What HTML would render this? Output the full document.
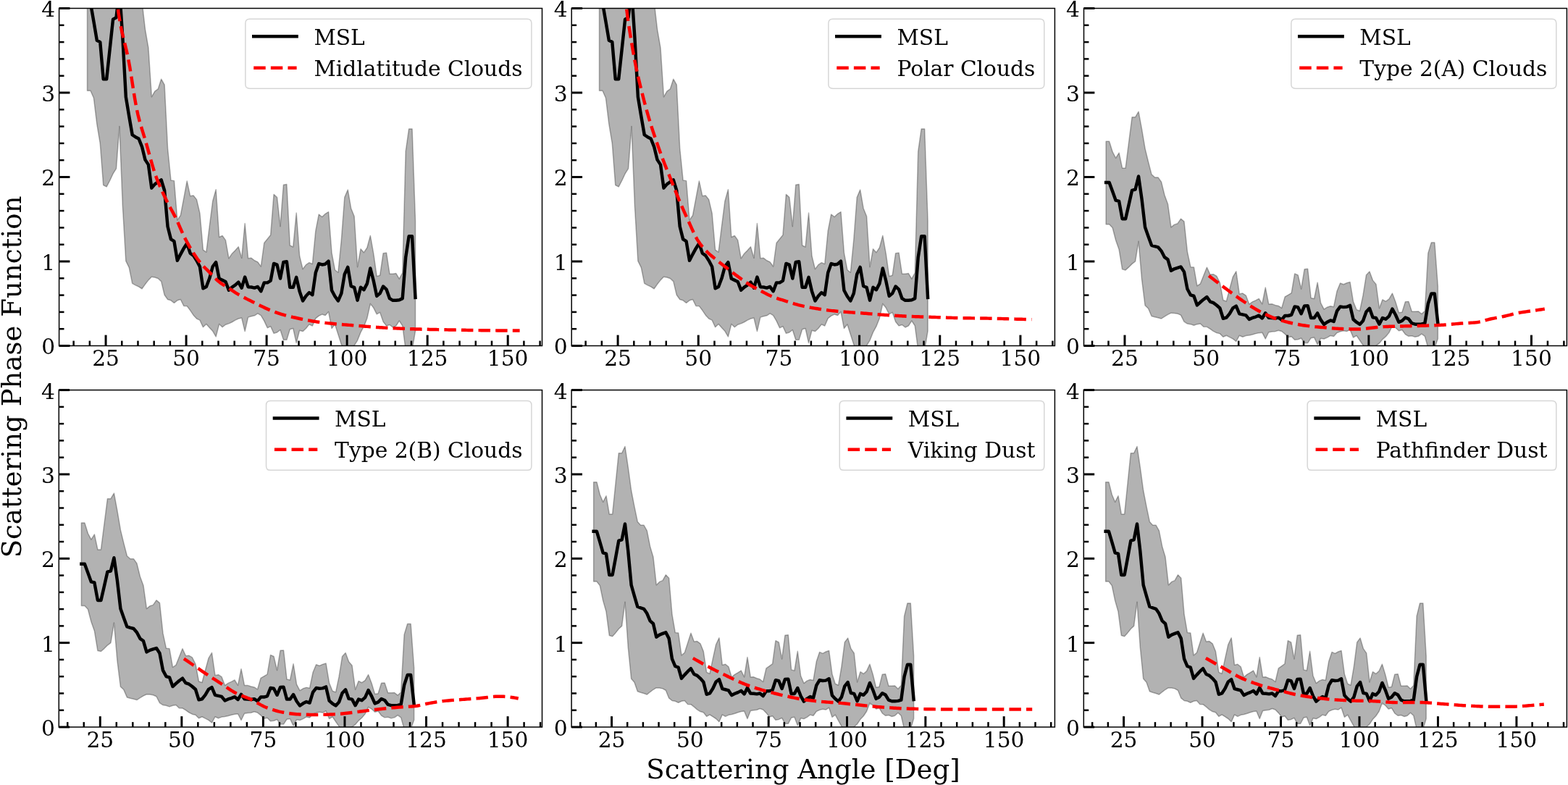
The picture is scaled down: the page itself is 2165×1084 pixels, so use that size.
<!DOCTYPE html><html><head><meta charset="utf-8"><title>Scattering Phase Function</title>
<style>html,body{margin:0;padding:0;background:#fff;overflow:hidden;}svg{display:block;}text{font-family:'DejaVu Serif', 'Liberation Serif', serif;fill:#000;}</style></head><body>
<svg width="2165" height="1084" viewBox="0 0 2165 1084">
<rect x="0" y="0" width="2165" height="1084" fill="#fff"/>
<defs>
<clipPath id="c1"><rect x="81.6" y="11.5" width="666.9" height="466"/></clipPath>
<clipPath id="c2"><rect x="789.2" y="11.5" width="667.2" height="466"/></clipPath>
<clipPath id="c3"><rect x="1496.5" y="11.5" width="666.9" height="466"/></clipPath>
<clipPath id="c4"><rect x="81.3" y="538.6" width="667.2" height="465.4"/></clipPath>
<clipPath id="c5"><rect x="789.1" y="538.6" width="667.3" height="465.4"/></clipPath>
<clipPath id="c6"><rect x="1496.3" y="538.6" width="667.1" height="465.4"/></clipPath>
</defs>
<g clip-path="url(#c1)">
<polygon points="120.51,-115.37 124.95,-115.37 129.4,-84.96 133.84,-66.9 138.28,-81.93 142.72,-37.66 147.16,-37.66 151.6,-111.76 156.04,-185.5 160.48,-185.5 164.92,-201.46 169.37,-150.43 173.81,-94.63 178.25,-55.84 182.69,-19.37 187.13,-10.98 191.57,-10.98 196.01,2.3 200.45,40.62 204.89,66.25 209.34,133.82 213.78,126.02 218.22,122.99 222.66,109.24 227.1,117.05 231.54,205.01 235.98,249.04 240.42,249.63 244.86,303.91 249.31,297.51 253.75,273.86 258.19,249.98 262.63,270.71 267.07,270.01 271.51,275.61 275.95,294.6 280.39,345.04 284.83,348.19 289.28,312.3 293.72,277.7 298.16,261.74 302.6,327.45 307.04,325.47 311.48,331.64 315.92,356.81 320.36,350.17 324.8,345.86 329.25,340.85 333.69,356.34 338.13,308.58 342.57,356.69 347.01,356.34 351.45,359.72 355.89,361.82 360.33,367.99 364.77,335.49 369.22,330.01 373.66,324.42 378.1,268.38 382.54,272.46 386.98,312.65 391.42,255.22 395.86,254.52 400.3,338.87 404.74,340.96 409.19,294.01 413.63,353.54 418.07,371.6 422.51,365.66 426.95,362.63 431.39,364.5 435.83,318.94 440.27,295.99 444.71,299.49 449.16,295.29 453.6,292.61 458.04,349.35 462.48,372.77 466.92,376.26 471.36,331.29 475.8,272.46 480.24,262.09 484.68,287.72 489.12,298.79 493.57,368.69 498.01,343.76 502.45,348.65 506.89,342.01 511.33,325.35 515.77,350.4 520.21,381.62 524.65,380.34 529.09,349.82 533.54,349.12 537.98,378.24 542.42,378.24 546.86,377.54 551.3,385.12 555.74,376.84 560.18,209.08 564.62,177.98 569.06,177.98 573.51,305.08 573.51,456.88 569.06,483.32 564.62,489.15 560.18,483.32 555.74,449.89 551.3,443.02 546.86,449.89 542.42,451.99 537.98,448.49 533.54,449.89 529.09,444.18 524.65,431.37 520.21,433.81 515.77,425.07 511.33,419.37 506.89,439.4 502.45,450.7 498.01,458.86 493.57,470.04 489.12,477.03 484.68,483.32 480.24,484.49 475.8,483.32 471.36,475.64 466.92,461.77 462.48,447.91 458.04,453.5 453.6,430.55 449.16,435.56 444.71,434.05 440.27,436.14 435.83,439.64 431.39,450.01 426.95,447.91 422.51,453.5 418.07,457.58 413.63,456.18 409.19,473.54 404.74,453.5 400.3,454.78 395.86,469.35 391.42,469.35 386.98,455.48 382.54,458.98 378.1,460.37 373.66,450.7 369.22,452.8 364.77,443.13 360.33,435.56 355.89,432.76 351.45,435.79 347.01,436.73 342.57,438.12 338.13,457.46 333.69,439.06 329.25,439.99 324.8,442.08 320.36,444.76 315.92,446.86 311.48,448.26 307.04,451.75 302.6,447.56 298.16,464.92 293.72,457.35 289.28,452.45 284.83,447.56 280.39,451.75 275.95,442.08 271.51,439.99 267.07,435.21 262.63,428.57 258.19,422.63 253.75,422.51 249.31,413.54 244.86,414.82 240.42,418.32 235.98,414.82 231.54,413.54 227.1,407.25 222.66,388.61 218.22,384.42 213.78,383.02 209.34,382.32 204.89,386.86 200.45,392.57 196.01,398.75 191.57,395.95 187.13,393.85 182.69,391.29 178.25,369.39 173.81,360.42 169.37,284.69 164.92,174.6 160.48,232.85 156.04,239.96 151.6,249.51 147.16,257.9 142.72,255.68 138.28,198.13 133.84,171.45 129.4,135.22 124.95,125.2 120.51,125.2" fill="#000" fill-opacity="0.3" stroke="#000" stroke-opacity="0.3" stroke-width="1.49" stroke-linejoin="round"/>
<polyline points="120.51,4.04 124.95,4.04 129.4,29.56 133.84,55.77 138.28,58.1 142.72,109.36 147.16,109.36 151.6,68.35 156.04,26.64 160.48,24.31 164.92,-14.01 169.37,52.28 173.81,133.82 178.25,160.62 182.69,186.25 187.13,189.16 191.57,191.49 196.01,202.56 200.45,220.62 204.89,227.37 209.34,259.64 213.78,254.4 218.22,251.26 222.66,248.46 227.1,263.02 231.54,312.77 235.98,330.36 240.42,333.16 244.86,359.83 249.31,351.1 253.75,342.94 258.19,335.95 262.63,349.58 267.07,352.85 271.51,359.83 275.95,368.22 280.39,398.28 284.83,395.95 289.28,384.3 293.72,367.99 298.16,362.17 302.6,384.77 307.04,386.86 311.48,388.96 315.92,400.61 320.36,396.53 324.8,393.62 329.25,389.66 333.69,397.58 338.13,382.55 342.57,396.18 347.01,396.53 351.45,397.58 355.89,395.95 360.33,402.24 364.77,390.36 369.22,390.36 373.66,387.68 378.1,363.91 382.54,365.66 386.98,384.53 391.42,361.93 395.86,361.23 400.3,396.77 404.74,396.77 409.19,382.9 413.63,402.24 418.07,415.41 422.51,408.76 426.95,403.99 431.39,407.13 435.83,376.49 440.27,364.03 444.71,365.43 449.16,364.73 453.6,360.65 458.04,400.96 462.48,409.23 466.92,415.41 471.36,405.04 475.8,378.71 480.24,368.92 484.68,395.25 489.12,396.77 493.57,414.71 498.01,396.77 502.45,400.14 506.89,391.64 511.33,370.55 515.77,387.8 520.21,408.88 524.65,405.15 529.09,395.48 533.54,399.56 537.98,412.14 542.42,414.82 546.86,414.82 551.3,414.24 555.74,412.14 560.18,355.29 564.62,326.28 569.06,326.28 573.51,410.98" fill="none" stroke="#000" stroke-width="4.46" stroke-linejoin="round" stroke-linecap="square"/>
<polyline points="152.66,-128.3 154.88,-90.13 157.1,-54.57 159.32,-23.42 161.54,1.51 163.76,18.97 165.98,32.35 168.2,43.33 170.42,52.78 172.64,61.61 174.86,70.71 177.08,80.98 179.3,93.18 181.52,106.92 183.74,121.24 185.96,135.17 188.18,147.74 190.4,158.09 192.62,166.83 194.84,174.64 197.06,181.93 199.28,189.08 201.5,196.5 203.72,204.35 205.94,212.39 208.16,220.41 210.38,228.19 212.6,235.53 214.82,242.21 217.04,248.17 219.26,253.69 221.48,258.87 223.7,263.78 225.92,268.52 228.14,273.16 230.36,277.73 232.58,282.06 234.8,286.2 237.02,290.26 239.24,294.36 241.46,298.6 243.68,303.08 245.9,307.94 248.12,313.04 250.34,318.19 252.56,323.19 254.78,327.86 257,332.08 259.22,336.12 261.44,340.04 263.66,343.84 265.88,347.49 268.1,350.98 270.32,354.32 272.54,357.47 274.76,360.45 276.98,363.22 279.2,365.79 281.42,368.19 283.64,370.48 285.86,372.68 288.08,374.86 290.3,377.05 292.52,379.29 294.74,381.65 296.96,384.04 299.18,386.32 301.4,388.36 303.62,390.08 305.84,391.63 308.06,393.05 310.28,394.42 312.5,395.77 314.72,397.17 316.94,398.64 319.16,400.13 321.38,401.63 323.6,403.1 325.82,404.54 328.04,405.91 330.26,407.2 332.48,408.45 334.7,409.66 336.92,410.84 339.14,411.99 341.36,413.12 343.58,414.23 345.8,415.34 348.02,416.45 350.24,417.56 352.46,418.67 354.68,419.77 356.9,420.86 359.12,421.94 361.34,423.02 363.56,424.08 365.78,425.13 366.89,425.66 369.11,426.63 371.33,427.58 373.55,428.5 375.77,429.4 377.99,430.26 380.21,431.09 382.43,431.89 384.65,432.65 386.87,433.37 389.09,434.05 391.31,434.69 393.53,435.31 395.75,435.9 397.97,436.47 400.19,437.01 402.41,437.54 404.63,438.06 406.85,438.55 409.07,439.04 411.29,439.52 413.51,439.99 415.73,440.45 417.95,440.91 420.17,441.36 422.39,441.8 424.61,442.23 426.83,442.65 429.05,443.05 431.27,443.43 433.49,443.79 435.71,444.13 437.93,444.46 440.15,444.76 442.37,445.05 444.59,445.33 446.81,445.6 449.03,445.86 451.25,446.11 453.47,446.35 455.69,446.59 457.91,446.81 460.13,447.03 462.35,447.24 464.57,447.44 466.79,447.63 469.01,447.82 471.23,448.01 473.45,448.18 475.67,448.36 477.89,448.53 480.11,448.71 482.33,448.88 484.55,449.05 486.77,449.23 488.99,449.4 491.21,449.59 493.43,449.77 495.65,449.95 497.87,450.14 500.09,450.32 502.31,450.51 504.53,450.7 506.75,450.88 508.97,451.06 511.19,451.24 513.41,451.41 515.63,451.58 517.85,451.75 520.07,451.91 522.29,452.06 524.51,452.21 526.73,452.35 528.95,452.48 531.17,452.61 533.39,452.72 535.61,452.83 537.83,452.94 540.05,453.05 542.27,453.16 544.49,453.26 546.71,453.36 548.93,453.46 551.15,453.56 553.37,453.66 555.59,453.75 557.81,453.84 560.03,453.93 562.25,454.01 564.47,454.09 566.69,454.17 568.91,454.25 571.13,454.33 573.35,454.4 575.57,454.46 577.79,454.53 580.01,454.59 582.23,454.65 584.45,454.7 586.67,454.75 588.89,454.8 591.11,454.85 593.33,454.9 595.55,454.94 597.77,454.99 599.99,455.03 602.21,455.08 604.43,455.13 606.65,455.17 608.87,455.22 611.09,455.26 613.31,455.3 615.53,455.35 617.75,455.39 619.97,455.43 622.19,455.48 624.41,455.52 626.63,455.56 628.85,455.6 631.07,455.64 633.29,455.68 635.51,455.72 637.73,455.76 639.95,455.8 642.17,455.83 644.39,455.87 646.61,455.9 648.83,455.94 651.05,455.97 653.27,456.01 655.49,456.04 657.71,456.07 659.93,456.1 662.15,456.13 664.37,456.16 666.59,456.19 668.81,456.22 671.03,456.24 673.25,456.27 675.47,456.29 677.69,456.32 679.91,456.34 682.13,456.36 684.35,456.38 686.57,456.4 688.79,456.42 691.01,456.43 693.23,456.45 695.45,456.46 697.67,456.47 699.89,456.49 702.11,456.5 704.33,456.5 706.55,456.51 708.77,456.52 710.99,456.52 713.21,456.53 715.43,456.53 717.61,456.53" fill="none" stroke="#f00" stroke-width="4.46" stroke-dasharray="16.48 7.13" stroke-linejoin="round" stroke-linecap="butt"/>
</g>
<line x1="101.64" y1="477.5" x2="101.64" y2="470.6" stroke="#000" stroke-width="2.5"/>
<line x1="123.84" y1="477.5" x2="123.84" y2="470.6" stroke="#000" stroke-width="2.5"/>
<line x1="146.05" y1="477.5" x2="146.05" y2="462.65" stroke="#000" stroke-width="2.97"/>
<line x1="168.26" y1="477.5" x2="168.26" y2="470.6" stroke="#000" stroke-width="2.5"/>
<line x1="190.46" y1="477.5" x2="190.46" y2="470.6" stroke="#000" stroke-width="2.5"/>
<line x1="212.67" y1="477.5" x2="212.67" y2="470.6" stroke="#000" stroke-width="2.5"/>
<line x1="234.87" y1="477.5" x2="234.87" y2="470.6" stroke="#000" stroke-width="2.5"/>
<line x1="257.08" y1="477.5" x2="257.08" y2="462.65" stroke="#000" stroke-width="2.97"/>
<line x1="279.28" y1="477.5" x2="279.28" y2="470.6" stroke="#000" stroke-width="2.5"/>
<line x1="301.49" y1="477.5" x2="301.49" y2="470.6" stroke="#000" stroke-width="2.5"/>
<line x1="323.69" y1="477.5" x2="323.69" y2="470.6" stroke="#000" stroke-width="2.5"/>
<line x1="345.9" y1="477.5" x2="345.9" y2="470.6" stroke="#000" stroke-width="2.5"/>
<line x1="368.11" y1="477.5" x2="368.11" y2="462.65" stroke="#000" stroke-width="2.97"/>
<line x1="390.31" y1="477.5" x2="390.31" y2="470.6" stroke="#000" stroke-width="2.5"/>
<line x1="412.52" y1="477.5" x2="412.52" y2="470.6" stroke="#000" stroke-width="2.5"/>
<line x1="434.72" y1="477.5" x2="434.72" y2="470.6" stroke="#000" stroke-width="2.5"/>
<line x1="456.93" y1="477.5" x2="456.93" y2="470.6" stroke="#000" stroke-width="2.5"/>
<line x1="479.13" y1="477.5" x2="479.13" y2="462.65" stroke="#000" stroke-width="2.97"/>
<line x1="501.34" y1="477.5" x2="501.34" y2="470.6" stroke="#000" stroke-width="2.5"/>
<line x1="523.54" y1="477.5" x2="523.54" y2="470.6" stroke="#000" stroke-width="2.5"/>
<line x1="545.75" y1="477.5" x2="545.75" y2="470.6" stroke="#000" stroke-width="2.5"/>
<line x1="567.95" y1="477.5" x2="567.95" y2="470.6" stroke="#000" stroke-width="2.5"/>
<line x1="590.16" y1="477.5" x2="590.16" y2="462.65" stroke="#000" stroke-width="2.97"/>
<line x1="612.37" y1="477.5" x2="612.37" y2="470.6" stroke="#000" stroke-width="2.5"/>
<line x1="634.57" y1="477.5" x2="634.57" y2="470.6" stroke="#000" stroke-width="2.5"/>
<line x1="656.78" y1="477.5" x2="656.78" y2="470.6" stroke="#000" stroke-width="2.5"/>
<line x1="678.98" y1="477.5" x2="678.98" y2="470.6" stroke="#000" stroke-width="2.5"/>
<line x1="701.19" y1="477.5" x2="701.19" y2="462.65" stroke="#000" stroke-width="2.97"/>
<line x1="723.39" y1="477.5" x2="723.39" y2="470.6" stroke="#000" stroke-width="2.5"/>
<line x1="745.6" y1="477.5" x2="745.6" y2="470.6" stroke="#000" stroke-width="2.5"/>
<line x1="81.6" y1="477.5" x2="96.45" y2="477.5" stroke="#000" stroke-width="2.97"/>
<line x1="81.6" y1="454.2" x2="88.5" y2="454.2" stroke="#000" stroke-width="2.5"/>
<line x1="81.6" y1="430.9" x2="88.5" y2="430.9" stroke="#000" stroke-width="2.5"/>
<line x1="81.6" y1="407.6" x2="88.5" y2="407.6" stroke="#000" stroke-width="2.5"/>
<line x1="81.6" y1="384.3" x2="88.5" y2="384.3" stroke="#000" stroke-width="2.5"/>
<line x1="81.6" y1="361" x2="96.45" y2="361" stroke="#000" stroke-width="2.97"/>
<line x1="81.6" y1="337.7" x2="88.5" y2="337.7" stroke="#000" stroke-width="2.5"/>
<line x1="81.6" y1="314.4" x2="88.5" y2="314.4" stroke="#000" stroke-width="2.5"/>
<line x1="81.6" y1="291.1" x2="88.5" y2="291.1" stroke="#000" stroke-width="2.5"/>
<line x1="81.6" y1="267.8" x2="88.5" y2="267.8" stroke="#000" stroke-width="2.5"/>
<line x1="81.6" y1="244.5" x2="96.45" y2="244.5" stroke="#000" stroke-width="2.97"/>
<line x1="81.6" y1="221.2" x2="88.5" y2="221.2" stroke="#000" stroke-width="2.5"/>
<line x1="81.6" y1="197.9" x2="88.5" y2="197.9" stroke="#000" stroke-width="2.5"/>
<line x1="81.6" y1="174.6" x2="88.5" y2="174.6" stroke="#000" stroke-width="2.5"/>
<line x1="81.6" y1="151.3" x2="88.5" y2="151.3" stroke="#000" stroke-width="2.5"/>
<line x1="81.6" y1="128" x2="96.45" y2="128" stroke="#000" stroke-width="2.97"/>
<line x1="81.6" y1="104.7" x2="88.5" y2="104.7" stroke="#000" stroke-width="2.5"/>
<line x1="81.6" y1="81.4" x2="88.5" y2="81.4" stroke="#000" stroke-width="2.5"/>
<line x1="81.6" y1="58.1" x2="88.5" y2="58.1" stroke="#000" stroke-width="2.5"/>
<line x1="81.6" y1="34.8" x2="88.5" y2="34.8" stroke="#000" stroke-width="2.5"/>
<line x1="81.6" y1="11.5" x2="96.45" y2="11.5" stroke="#000" stroke-width="2.97"/>
<rect x="81.6" y="11.5" width="666.9" height="466" fill="none" stroke="#000" stroke-width="1.49"/>
<text x="146.05" y="505" font-size="29.7" text-anchor="middle">25</text>
<text x="257.08" y="505" font-size="29.7" text-anchor="middle">50</text>
<text x="368.11" y="505" font-size="29.7" text-anchor="middle">75</text>
<text x="479.13" y="505" font-size="29.7" text-anchor="middle">100</text>
<text x="590.16" y="505" font-size="29.7" text-anchor="middle">125</text>
<text x="701.19" y="505" font-size="29.7" text-anchor="middle">150</text>
<text x="76.1" y="489.45" font-size="29.7" text-anchor="end">0</text>
<text x="76.1" y="372.95" font-size="29.7" text-anchor="end">1</text>
<text x="76.1" y="256.45" font-size="29.7" text-anchor="end">2</text>
<text x="76.1" y="139.95" font-size="29.7" text-anchor="end">3</text>
<text x="76.1" y="23.45" font-size="29.7" text-anchor="end">4</text>
<path d="M344.78,26.35 L727.96,26.35 Q733.9,26.35 733.9,32.29 L733.9,116.31 Q733.9,122.25 727.96,122.25 L344.78,122.25 Q338.84,122.25 338.84,116.31 L338.84,32.29 Q338.84,26.35 344.78,26.35 Z" fill="#fff" fill-opacity="0.8" stroke="#ccc" stroke-opacity="0.8" stroke-width="1.49"/>
<line x1="350.22" y1="50.3" x2="409.62" y2="50.3" stroke="#000" stroke-width="4.46" stroke-linecap="square"/>
<line x1="350.22" y1="93.7" x2="409.62" y2="93.7" stroke="#f00" stroke-width="4.46" stroke-dasharray="16.48 7.13"/>
<text x="433.38" y="62.2" font-size="29.7">MSL</text>
<text x="433.38" y="105.2" font-size="29.7">Midlatitude Clouds</text>
<g clip-path="url(#c2)">
<polygon points="827.51,-115.37 831.96,-115.37 836.4,-84.96 840.85,-66.9 845.3,-81.93 849.74,-37.66 854.19,-37.66 858.64,-111.76 863.09,-185.5 867.53,-185.5 871.98,-201.46 876.43,-150.43 880.87,-94.63 885.32,-55.84 889.77,-19.37 894.21,-10.98 898.66,-10.98 903.11,2.3 907.55,40.62 912,66.25 916.45,133.82 920.89,126.02 925.34,122.99 929.79,109.24 934.23,117.05 938.68,205.01 943.13,249.04 947.57,249.63 952.02,303.91 956.47,297.51 960.91,273.86 965.36,249.98 969.81,270.71 974.25,270.01 978.7,275.61 983.15,294.6 987.59,345.04 992.04,348.19 996.49,312.3 1000.93,277.7 1005.38,261.74 1009.83,327.45 1014.27,325.47 1018.72,331.64 1023.17,356.81 1027.61,350.17 1032.06,345.86 1036.51,340.85 1040.95,356.34 1045.4,308.58 1049.85,356.69 1054.29,356.34 1058.74,359.72 1063.19,361.82 1067.63,367.99 1072.08,335.49 1076.53,330.01 1080.97,324.42 1085.42,268.38 1089.87,272.46 1094.31,312.65 1098.76,255.22 1103.21,254.52 1107.65,338.87 1112.1,340.96 1116.55,294.01 1120.99,353.54 1125.44,371.6 1129.89,365.66 1134.33,362.63 1138.78,364.5 1143.23,318.94 1147.67,295.99 1152.12,299.49 1156.57,295.29 1161.01,292.61 1165.46,349.35 1169.91,372.77 1174.35,376.26 1178.8,331.29 1183.25,272.46 1187.69,262.09 1192.14,287.72 1196.59,298.79 1201.03,368.69 1205.48,343.76 1209.93,348.65 1214.37,342.01 1218.82,325.35 1223.27,350.4 1227.71,381.62 1232.16,380.34 1236.61,349.82 1241.05,349.12 1245.5,378.24 1249.95,378.24 1254.39,377.54 1258.84,385.12 1263.29,376.84 1267.73,209.08 1272.18,177.98 1276.63,177.98 1281.07,305.08 1281.07,456.88 1276.63,483.32 1272.18,489.15 1267.73,483.32 1263.29,449.89 1258.84,443.02 1254.39,449.89 1249.95,451.99 1245.5,448.49 1241.05,449.89 1236.61,444.18 1232.16,431.37 1227.71,433.81 1223.27,425.07 1218.82,419.37 1214.37,439.4 1209.93,450.7 1205.48,458.86 1201.03,470.04 1196.59,477.03 1192.14,483.32 1187.69,484.49 1183.25,483.32 1178.8,475.64 1174.35,461.77 1169.91,447.91 1165.46,453.5 1161.01,430.55 1156.57,435.56 1152.12,434.05 1147.67,436.14 1143.23,439.64 1138.78,450.01 1134.33,447.91 1129.89,453.5 1125.44,457.58 1120.99,456.18 1116.55,473.54 1112.1,453.5 1107.65,454.78 1103.21,469.35 1098.76,469.35 1094.31,455.48 1089.87,458.98 1085.42,460.37 1080.97,450.7 1076.53,452.8 1072.08,443.13 1067.63,435.56 1063.19,432.76 1058.74,435.79 1054.29,436.73 1049.85,438.12 1045.4,457.46 1040.95,439.06 1036.51,439.99 1032.06,442.08 1027.61,444.76 1023.17,446.86 1018.72,448.26 1014.27,451.75 1009.83,447.56 1005.38,464.92 1000.93,457.35 996.49,452.45 992.04,447.56 987.59,451.75 983.15,442.08 978.7,439.99 974.25,435.21 969.81,428.57 965.36,422.63 960.91,422.51 956.47,413.54 952.02,414.82 947.57,418.32 943.13,414.82 938.68,413.54 934.23,407.25 929.79,388.61 925.34,384.42 920.89,383.02 916.45,382.32 912,386.86 907.55,392.57 903.11,398.75 898.66,395.95 894.21,393.85 889.77,391.29 885.32,369.39 880.87,360.42 876.43,284.69 871.98,174.6 867.53,232.85 863.09,239.96 858.64,249.51 854.19,257.9 849.74,255.68 845.3,198.13 840.85,171.45 836.4,135.22 831.96,125.2 827.51,125.2" fill="#000" fill-opacity="0.3" stroke="#000" stroke-opacity="0.3" stroke-width="1.49" stroke-linejoin="round"/>
<polyline points="827.51,4.04 831.96,4.04 836.4,29.56 840.85,55.77 845.3,58.1 849.74,109.36 854.19,109.36 858.64,68.35 863.09,26.64 867.53,24.31 871.98,-14.01 876.43,52.28 880.87,133.82 885.32,160.62 889.77,186.25 894.21,189.16 898.66,191.49 903.11,202.56 907.55,220.62 912,227.37 916.45,259.64 920.89,254.4 925.34,251.26 929.79,248.46 934.23,263.02 938.68,312.77 943.13,330.36 947.57,333.16 952.02,359.83 956.47,351.1 960.91,342.94 965.36,335.95 969.81,349.58 974.25,352.85 978.7,359.83 983.15,368.22 987.59,398.28 992.04,395.95 996.49,384.3 1000.93,367.99 1005.38,362.17 1009.83,384.77 1014.27,386.86 1018.72,388.96 1023.17,400.61 1027.61,396.53 1032.06,393.62 1036.51,389.66 1040.95,397.58 1045.4,382.55 1049.85,396.18 1054.29,396.53 1058.74,397.58 1063.19,395.95 1067.63,402.24 1072.08,390.36 1076.53,390.36 1080.97,387.68 1085.42,363.91 1089.87,365.66 1094.31,384.53 1098.76,361.93 1103.21,361.23 1107.65,396.77 1112.1,396.77 1116.55,382.9 1120.99,402.24 1125.44,415.41 1129.89,408.76 1134.33,403.99 1138.78,407.13 1143.23,376.49 1147.67,364.03 1152.12,365.43 1156.57,364.73 1161.01,360.65 1165.46,400.96 1169.91,409.23 1174.35,415.41 1178.8,405.04 1183.25,378.71 1187.69,368.92 1192.14,395.25 1196.59,396.77 1201.03,414.71 1205.48,396.77 1209.93,400.14 1214.37,391.64 1218.82,370.55 1223.27,387.8 1227.71,408.88 1232.16,405.15 1236.61,395.48 1241.05,399.56 1245.5,412.14 1249.95,414.82 1254.39,414.82 1258.84,414.24 1263.29,412.14 1267.73,355.29 1272.18,326.28 1276.63,326.28 1281.07,410.98" fill="none" stroke="#000" stroke-width="4.46" stroke-linejoin="round" stroke-linecap="square"/>
<polyline points="855.77,-105 857.99,-71.09 860.21,-40.79 862.43,-14.33 864.65,8.05 866.87,26.07 869.09,40.78 871.31,54.48 873.53,67.76 875.75,80.19 877.97,91.56 880.19,101.92 882.41,111.55 884.63,120.71 886.85,129.62 889.07,138.28 891.29,146.64 893.51,154.69 895.73,162.4 897.95,169.77 900.17,176.84 902.39,183.66 904.61,190.3 906.83,196.79 909.05,203.11 911.27,209.27 913.49,215.29 915.71,221.2 917.93,226.98 920.15,232.59 922.37,238.09 924.59,243.54 926.81,249.02 929.03,254.59 931.25,260.22 933.47,265.85 935.69,271.41 937.91,276.83 940.13,282.06 942.35,287.16 944.57,292.17 946.79,297.08 949.01,301.93 951.23,306.72 953.45,311.62 955.67,316.58 957.89,321.43 960.11,325.99 962.33,330.07 964.55,333.57 966.77,336.75 968.99,339.68 971.21,342.38 973.43,344.88 975.65,347.21 977.87,349.36 980.09,351.36 982.31,353.25 984.53,355.07 986.75,356.88 988.97,358.7 991.19,360.5 993.41,362.25 995.63,363.98 997.85,365.69 1000.07,367.4 1002.29,369.12 1004.51,370.85 1006.73,372.59 1008.95,374.33 1011.17,376.07 1013.39,377.79 1015.61,379.48 1017.83,381.14 1020.05,382.78 1022.27,384.41 1024.49,386.03 1026.71,387.63 1028.93,389.19 1031.15,390.7 1033.37,392.14 1035.59,393.52 1037.81,394.83 1040.03,396.08 1042.25,397.3 1044.47,398.49 1046.69,399.66 1048.91,400.82 1051.13,401.99 1053.35,403.17 1055.57,404.36 1057.79,405.52 1060.01,406.65 1062.23,407.73 1064.45,408.74 1066.67,409.66 1068.89,410.51 1071.11,411.32 1073.33,412.08 1075.55,412.81 1077.77,413.52 1079.99,414.21 1082.21,414.89 1084.43,415.58 1086.65,416.27 1088.87,416.98 1091.09,417.7 1093.31,418.41 1095.53,419.11 1097.75,419.8 1099.97,420.46 1102.19,421.08 1104.41,421.66 1106.63,422.19 1108.85,422.68 1111.07,423.16 1113.29,423.61 1115.51,424.04 1117.73,424.45 1119.95,424.85 1122.17,425.23 1124.39,425.6 1126.61,425.97 1128.83,426.32 1131.05,426.68 1133.27,427.02 1135.49,427.36 1137.71,427.69 1139.93,428 1142.15,428.3 1144.37,428.59 1146.59,428.86 1148.81,429.11 1151.03,429.34 1153.25,429.56 1155.47,429.77 1157.69,429.96 1159.91,430.15 1162.13,430.33 1164.35,430.51 1166.57,430.68 1168.79,430.85 1171.01,431.03 1173.23,431.2 1175.45,431.37 1177.67,431.53 1179.89,431.69 1182.11,431.84 1184.33,432 1186.55,432.16 1188.77,432.32 1190.99,432.49 1193.21,432.66 1195.43,432.84 1197.65,433.01 1199.87,433.2 1202.09,433.38 1204.31,433.56 1206.53,433.74 1208.75,433.92 1210.97,434.1 1213.19,434.28 1215.41,434.45 1217.63,434.61 1219.85,434.77 1222.07,434.92 1224.29,435.07 1226.51,435.22 1228.73,435.37 1230.95,435.51 1233.17,435.66 1235.39,435.8 1237.61,435.94 1239.83,436.07 1242.05,436.2 1244.27,436.32 1246.49,436.44 1248.71,436.55 1250.93,436.66 1253.15,436.76 1255.37,436.85 1257.59,436.94 1259.81,437.03 1262.03,437.11 1264.25,437.19 1266.47,437.27 1268.69,437.34 1270.91,437.41 1273.13,437.48 1275.35,437.55 1277.57,437.62 1279.79,437.69 1282.01,437.76 1284.23,437.83 1286.45,437.9 1288.67,437.97 1290.89,438.04 1293.11,438.12 1295.33,438.19 1297.55,438.27 1299.77,438.35 1301.99,438.43 1304.21,438.51 1306.43,438.59 1308.65,438.66 1310.87,438.74 1313.09,438.81 1315.31,438.88 1317.53,438.94 1319.75,439 1321.97,439.06 1324.19,439.11 1326.41,439.16 1328.63,439.2 1330.85,439.23 1333.07,439.26 1335.29,439.29 1337.51,439.32 1339.73,439.34 1341.95,439.37 1344.17,439.39 1346.39,439.41 1348.61,439.44 1350.83,439.46 1353.05,439.48 1355.27,439.51 1357.49,439.53 1359.71,439.56 1361.93,439.59 1364.15,439.63 1366.37,439.67 1368.59,439.71 1370.81,439.76 1373.03,439.82 1375.25,439.88 1377.47,439.94 1379.69,440 1381.91,440.06 1384.13,440.13 1386.35,440.19 1388.57,440.26 1390.79,440.32 1393.01,440.38 1395.23,440.44 1397.45,440.49 1399.67,440.55 1401.89,440.61 1404.11,440.66 1406.33,440.72 1408.55,440.77 1410.77,440.82 1412.99,440.88 1415.21,440.93 1417.43,440.99 1419.65,441.04 1421.87,441.09 1424.09,441.14 1424.4,441.15" fill="none" stroke="#f00" stroke-width="4.46" stroke-dasharray="16.48 7.13" stroke-linejoin="round" stroke-linecap="butt"/>
</g>
<line x1="808.61" y1="477.5" x2="808.61" y2="470.6" stroke="#000" stroke-width="2.5"/>
<line x1="830.85" y1="477.5" x2="830.85" y2="470.6" stroke="#000" stroke-width="2.5"/>
<line x1="853.08" y1="477.5" x2="853.08" y2="462.65" stroke="#000" stroke-width="2.97"/>
<line x1="875.31" y1="477.5" x2="875.31" y2="470.6" stroke="#000" stroke-width="2.5"/>
<line x1="897.55" y1="477.5" x2="897.55" y2="470.6" stroke="#000" stroke-width="2.5"/>
<line x1="919.78" y1="477.5" x2="919.78" y2="470.6" stroke="#000" stroke-width="2.5"/>
<line x1="942.01" y1="477.5" x2="942.01" y2="470.6" stroke="#000" stroke-width="2.5"/>
<line x1="964.25" y1="477.5" x2="964.25" y2="462.65" stroke="#000" stroke-width="2.97"/>
<line x1="986.48" y1="477.5" x2="986.48" y2="470.6" stroke="#000" stroke-width="2.5"/>
<line x1="1008.71" y1="477.5" x2="1008.71" y2="470.6" stroke="#000" stroke-width="2.5"/>
<line x1="1030.95" y1="477.5" x2="1030.95" y2="470.6" stroke="#000" stroke-width="2.5"/>
<line x1="1053.18" y1="477.5" x2="1053.18" y2="470.6" stroke="#000" stroke-width="2.5"/>
<line x1="1075.41" y1="477.5" x2="1075.41" y2="462.65" stroke="#000" stroke-width="2.97"/>
<line x1="1097.65" y1="477.5" x2="1097.65" y2="470.6" stroke="#000" stroke-width="2.5"/>
<line x1="1119.88" y1="477.5" x2="1119.88" y2="470.6" stroke="#000" stroke-width="2.5"/>
<line x1="1142.12" y1="477.5" x2="1142.12" y2="470.6" stroke="#000" stroke-width="2.5"/>
<line x1="1164.35" y1="477.5" x2="1164.35" y2="470.6" stroke="#000" stroke-width="2.5"/>
<line x1="1186.58" y1="477.5" x2="1186.58" y2="462.65" stroke="#000" stroke-width="2.97"/>
<line x1="1208.82" y1="477.5" x2="1208.82" y2="470.6" stroke="#000" stroke-width="2.5"/>
<line x1="1231.05" y1="477.5" x2="1231.05" y2="470.6" stroke="#000" stroke-width="2.5"/>
<line x1="1253.28" y1="477.5" x2="1253.28" y2="470.6" stroke="#000" stroke-width="2.5"/>
<line x1="1275.52" y1="477.5" x2="1275.52" y2="470.6" stroke="#000" stroke-width="2.5"/>
<line x1="1297.75" y1="477.5" x2="1297.75" y2="462.65" stroke="#000" stroke-width="2.97"/>
<line x1="1319.98" y1="477.5" x2="1319.98" y2="470.6" stroke="#000" stroke-width="2.5"/>
<line x1="1342.22" y1="477.5" x2="1342.22" y2="470.6" stroke="#000" stroke-width="2.5"/>
<line x1="1364.45" y1="477.5" x2="1364.45" y2="470.6" stroke="#000" stroke-width="2.5"/>
<line x1="1386.68" y1="477.5" x2="1386.68" y2="470.6" stroke="#000" stroke-width="2.5"/>
<line x1="1408.92" y1="477.5" x2="1408.92" y2="462.65" stroke="#000" stroke-width="2.97"/>
<line x1="1431.15" y1="477.5" x2="1431.15" y2="470.6" stroke="#000" stroke-width="2.5"/>
<line x1="1453.38" y1="477.5" x2="1453.38" y2="470.6" stroke="#000" stroke-width="2.5"/>
<line x1="789.2" y1="477.5" x2="804.05" y2="477.5" stroke="#000" stroke-width="2.97"/>
<line x1="789.2" y1="454.2" x2="796.1" y2="454.2" stroke="#000" stroke-width="2.5"/>
<line x1="789.2" y1="430.9" x2="796.1" y2="430.9" stroke="#000" stroke-width="2.5"/>
<line x1="789.2" y1="407.6" x2="796.1" y2="407.6" stroke="#000" stroke-width="2.5"/>
<line x1="789.2" y1="384.3" x2="796.1" y2="384.3" stroke="#000" stroke-width="2.5"/>
<line x1="789.2" y1="361" x2="804.05" y2="361" stroke="#000" stroke-width="2.97"/>
<line x1="789.2" y1="337.7" x2="796.1" y2="337.7" stroke="#000" stroke-width="2.5"/>
<line x1="789.2" y1="314.4" x2="796.1" y2="314.4" stroke="#000" stroke-width="2.5"/>
<line x1="789.2" y1="291.1" x2="796.1" y2="291.1" stroke="#000" stroke-width="2.5"/>
<line x1="789.2" y1="267.8" x2="796.1" y2="267.8" stroke="#000" stroke-width="2.5"/>
<line x1="789.2" y1="244.5" x2="804.05" y2="244.5" stroke="#000" stroke-width="2.97"/>
<line x1="789.2" y1="221.2" x2="796.1" y2="221.2" stroke="#000" stroke-width="2.5"/>
<line x1="789.2" y1="197.9" x2="796.1" y2="197.9" stroke="#000" stroke-width="2.5"/>
<line x1="789.2" y1="174.6" x2="796.1" y2="174.6" stroke="#000" stroke-width="2.5"/>
<line x1="789.2" y1="151.3" x2="796.1" y2="151.3" stroke="#000" stroke-width="2.5"/>
<line x1="789.2" y1="128" x2="804.05" y2="128" stroke="#000" stroke-width="2.97"/>
<line x1="789.2" y1="104.7" x2="796.1" y2="104.7" stroke="#000" stroke-width="2.5"/>
<line x1="789.2" y1="81.4" x2="796.1" y2="81.4" stroke="#000" stroke-width="2.5"/>
<line x1="789.2" y1="58.1" x2="796.1" y2="58.1" stroke="#000" stroke-width="2.5"/>
<line x1="789.2" y1="34.8" x2="796.1" y2="34.8" stroke="#000" stroke-width="2.5"/>
<line x1="789.2" y1="11.5" x2="804.05" y2="11.5" stroke="#000" stroke-width="2.97"/>
<rect x="789.2" y="11.5" width="667.2" height="466" fill="none" stroke="#000" stroke-width="1.49"/>
<text x="853.08" y="505" font-size="29.7" text-anchor="middle">25</text>
<text x="964.25" y="505" font-size="29.7" text-anchor="middle">50</text>
<text x="1075.41" y="505" font-size="29.7" text-anchor="middle">75</text>
<text x="1186.58" y="505" font-size="29.7" text-anchor="middle">100</text>
<text x="1297.75" y="505" font-size="29.7" text-anchor="middle">125</text>
<text x="1408.92" y="505" font-size="29.7" text-anchor="middle">150</text>
<text x="783.7" y="489.45" font-size="29.7" text-anchor="end">0</text>
<text x="783.7" y="372.95" font-size="29.7" text-anchor="end">1</text>
<text x="783.7" y="256.45" font-size="29.7" text-anchor="end">2</text>
<text x="783.7" y="139.95" font-size="29.7" text-anchor="end">3</text>
<text x="783.7" y="23.45" font-size="29.7" text-anchor="end">4</text>
<path d="M1149.83,26.35 L1435.86,26.35 Q1441.8,26.35 1441.8,32.29 L1441.8,116.31 Q1441.8,122.25 1435.86,122.25 L1149.83,122.25 Q1143.89,122.25 1143.89,116.31 L1143.89,32.29 Q1143.89,26.35 1149.83,26.35 Z" fill="#fff" fill-opacity="0.8" stroke="#ccc" stroke-opacity="0.8" stroke-width="1.49"/>
<line x1="1155.27" y1="50.3" x2="1214.67" y2="50.3" stroke="#000" stroke-width="4.46" stroke-linecap="square"/>
<line x1="1155.27" y1="93.7" x2="1214.67" y2="93.7" stroke="#f00" stroke-width="4.46" stroke-dasharray="16.48 7.13"/>
<text x="1238.43" y="62.2" font-size="29.7">MSL</text>
<text x="1238.43" y="105.2" font-size="29.7">Polar Clouds</text>
<g clip-path="url(#c3)">
<polygon points="1527.12,195.18 1531.61,195.18 1536.11,209.66 1540.6,218.26 1545.09,211.1 1549.58,232.18 1554.07,232.18 1558.57,196.9 1563.06,161.79 1567.55,161.79 1572.04,154.18 1576.53,178.48 1581.03,205.06 1585.52,223.53 1590.01,240.89 1594.5,244.89 1598.99,244.89 1603.49,251.21 1607.98,269.46 1612.47,281.67 1616.96,313.85 1621.45,310.13 1625.95,308.69 1630.44,302.14 1634.93,305.86 1639.42,347.74 1643.91,368.71 1648.4,368.99 1652.9,394.84 1657.39,391.79 1661.88,380.53 1666.37,369.15 1670.87,379.03 1675.36,378.7 1679.85,381.36 1684.34,390.4 1688.83,414.42 1693.33,415.92 1697.82,398.83 1702.31,382.36 1706.8,374.76 1711.29,406.05 1715.79,405.1 1720.28,408.04 1724.77,420.03 1729.26,416.86 1733.75,414.81 1738.25,412.43 1742.74,419.8 1747.23,397.06 1751.72,419.97 1756.21,419.8 1760.7,421.41 1765.2,422.41 1769.69,425.35 1774.18,409.87 1778.67,407.27 1783.16,404.6 1787.66,377.92 1792.15,379.86 1796.64,399 1801.13,371.65 1805.62,371.32 1810.12,411.48 1814.61,412.48 1819.1,390.12 1823.59,418.47 1828.09,427.07 1832.58,424.24 1837.07,422.8 1841.56,423.69 1846.05,402 1850.55,391.07 1855.04,392.73 1859.53,390.74 1864.02,389.46 1868.51,416.48 1873.01,427.63 1877.5,429.29 1881.99,407.88 1886.48,379.86 1890.97,374.92 1895.47,387.13 1899.96,392.4 1904.45,425.69 1908.94,413.81 1913.43,416.14 1917.93,412.98 1922.42,405.05 1926.91,416.98 1931.4,431.84 1935.89,431.23 1940.38,416.7 1944.88,416.37 1949.37,430.23 1953.86,430.23 1958.35,429.9 1962.85,433.51 1967.34,429.57 1971.83,349.68 1976.32,334.87 1980.81,334.87 1985.31,395.4 1985.31,467.68 1980.81,480.27 1976.32,483.05 1971.83,480.27 1967.34,464.35 1962.85,461.08 1958.35,464.35 1953.86,465.35 1949.37,463.69 1944.88,464.35 1940.38,461.63 1935.89,455.53 1931.4,456.7 1926.91,452.54 1922.42,449.82 1917.93,459.36 1913.43,464.74 1908.94,468.62 1904.45,473.95 1899.96,477.28 1895.47,480.27 1890.97,480.83 1886.48,480.27 1881.99,476.61 1877.5,470.01 1873.01,463.41 1868.51,466.07 1864.02,455.14 1859.53,457.53 1855.04,456.81 1850.55,457.81 1846.05,459.47 1841.56,464.41 1837.07,463.41 1832.58,466.07 1828.09,468.01 1823.59,467.35 1819.1,475.61 1814.61,466.07 1810.12,466.68 1805.62,473.62 1801.13,473.62 1796.64,467.01 1792.15,468.68 1787.66,469.35 1783.16,464.74 1778.67,465.74 1774.18,461.13 1769.69,457.53 1765.2,456.2 1760.7,457.64 1756.21,458.08 1751.72,458.75 1747.23,467.96 1742.74,459.19 1738.25,459.64 1733.75,460.64 1729.26,461.91 1724.77,462.91 1720.28,463.58 1715.79,465.24 1711.29,463.24 1706.8,471.51 1702.31,467.9 1697.82,465.57 1693.33,463.24 1688.83,465.24 1684.34,460.64 1679.85,459.64 1675.36,457.36 1670.87,454.2 1666.37,451.37 1661.88,451.32 1657.39,447.04 1652.9,447.65 1648.4,449.32 1643.91,447.65 1639.42,447.04 1634.93,444.05 1630.44,435.17 1625.95,433.17 1621.45,432.51 1616.96,432.18 1612.47,434.34 1607.98,437.06 1603.49,440 1598.99,438.67 1594.5,437.67 1590.01,436.45 1585.52,426.02 1581.03,421.75 1576.53,385.69 1572.04,333.26 1567.55,361 1563.06,364.38 1558.57,368.93 1554.07,372.93 1549.58,371.87 1545.09,344.47 1540.6,331.76 1536.11,314.51 1531.61,309.74 1527.12,309.74" fill="#000" fill-opacity="0.3" stroke="#000" stroke-opacity="0.3" stroke-width="1.49" stroke-linejoin="round"/>
<polyline points="1527.12,252.04 1531.61,252.04 1536.11,264.19 1540.6,276.68 1545.09,277.79 1549.58,302.2 1554.07,302.2 1558.57,282.67 1563.06,262.81 1567.55,261.7 1572.04,243.45 1576.53,275.01 1581.03,313.85 1585.52,326.6 1590.01,338.81 1594.5,340.2 1598.99,341.31 1603.49,346.58 1607.98,355.18 1612.47,358.39 1616.96,373.76 1621.45,371.26 1625.95,369.77 1630.44,368.43 1634.93,375.37 1639.42,399.06 1643.91,407.43 1648.4,408.76 1652.9,421.47 1657.39,417.31 1661.88,413.43 1666.37,410.1 1670.87,416.59 1675.36,418.14 1679.85,421.47 1684.34,425.46 1688.83,439.78 1693.33,438.67 1697.82,433.12 1702.31,425.35 1706.8,422.58 1711.29,433.34 1715.79,434.34 1720.28,435.34 1724.77,440.89 1729.26,438.94 1733.75,437.56 1738.25,435.67 1742.74,439.44 1747.23,432.29 1751.72,438.78 1756.21,438.94 1760.7,439.44 1765.2,438.67 1769.69,441.66 1774.18,436 1778.67,436 1783.16,434.73 1787.66,423.41 1792.15,424.24 1796.64,433.23 1801.13,422.47 1805.62,422.13 1810.12,439.06 1814.61,439.06 1819.1,432.45 1823.59,441.66 1828.09,447.93 1832.58,444.77 1837.07,442.49 1841.56,443.99 1846.05,429.4 1850.55,423.47 1855.04,424.13 1859.53,423.8 1864.02,421.86 1868.51,441.05 1873.01,444.99 1877.5,447.93 1881.99,442.99 1886.48,430.46 1890.97,425.8 1895.47,438.33 1899.96,439.06 1904.45,447.6 1908.94,439.06 1913.43,440.66 1917.93,436.61 1922.42,426.57 1926.91,434.78 1931.4,444.82 1935.89,443.05 1940.38,438.44 1944.88,440.39 1949.37,446.38 1953.86,447.65 1958.35,447.65 1962.85,447.38 1967.34,446.38 1971.83,419.31 1976.32,405.49 1980.81,405.49 1985.31,445.82" fill="none" stroke="#000" stroke-width="4.46" stroke-linejoin="round" stroke-linecap="square"/>
<polyline points="1669.11,380.81 1671.35,382.53 1673.6,384.24 1675.85,385.95 1678.1,387.66 1680.34,389.36 1682.59,391.06 1684.84,392.76 1687.08,394.46 1689.33,396.16 1691.58,397.85 1693.83,399.53 1696.07,401.2 1698.32,402.85 1700.57,404.49 1702.82,406.13 1705.06,407.77 1707.31,409.4 1709.56,411.01 1711.81,412.61 1714.05,414.18 1716.3,415.72 1718.55,417.23 1720.8,418.71 1723.04,420.18 1725.29,421.64 1727.54,423.09 1729.79,424.5 1732.03,425.88 1734.28,427.23 1736.53,428.52 1738.78,429.75 1741.02,430.92 1743.27,432.06 1745.52,433.18 1747.76,434.26 1750.01,435.31 1752.26,436.32 1754.51,437.29 1756.75,438.21 1759,439.07 1761.25,439.88 1763.5,440.65 1765.74,441.39 1767.99,442.11 1770.24,442.79 1772.49,443.45 1774.73,444.07 1776.98,444.66 1779.23,445.23 1781.48,445.75 1783.72,446.25 1785.97,446.73 1788.22,447.19 1790.47,447.64 1792.71,448.06 1794.96,448.47 1797.21,448.85 1799.45,449.22 1801.7,449.56 1803.95,449.87 1806.2,450.16 1808.44,450.43 1810.69,450.68 1812.94,450.92 1815.19,451.15 1817.43,451.37 1819.68,451.57 1821.93,451.77 1824.18,451.96 1826.42,452.15 1828.67,452.34 1830.92,452.52 1833.17,452.71 1835.41,452.9 1837.66,453.09 1839.91,453.27 1842.16,453.45 1844.4,453.62 1846.65,453.77 1848.9,453.9 1851.15,454.01 1853.39,454.09 1855.64,454.16 1857.89,454.23 1860.13,454.29 1862.38,454.35 1864.63,454.4 1866.88,454.45 1869.12,454.49 1871.37,454.52 1873.62,454.54 1875.87,454.55 1878.11,454.51 1880.36,454.38 1882.61,454.17 1884.86,453.91 1887.1,453.62 1889.35,453.32 1891.6,453.02 1893.85,452.77 1896.09,452.55 1898.34,452.32 1900.59,452.08 1902.84,451.85 1905.08,451.62 1907.33,451.42 1909.58,451.24 1911.82,451.11 1914.07,451.01 1916.32,450.92 1918.57,450.85 1920.81,450.78 1923.06,450.72 1925.31,450.66 1927.56,450.61 1929.8,450.56 1932.05,450.51 1934.3,450.47 1936.55,450.42 1938.79,450.37 1941.04,450.31 1943.29,450.26 1945.54,450.22 1947.78,450.17 1950.03,450.13 1952.28,450.08 1954.53,450.04 1956.77,449.99 1959.02,449.94 1961.27,449.89 1963.52,449.83 1965.76,449.77 1968.01,449.7 1970.26,449.63 1972.5,449.56 1974.75,449.48 1977,449.4 1979.25,449.31 1981.49,449.22 1983.74,449.12 1985.99,449.02 1988.24,448.91 1990.48,448.8 1992.73,448.68 1994.98,448.53 1997.23,448.37 1999.47,448.18 2001.72,447.99 2003.97,447.78 2006.22,447.57 2008.46,447.36 2010.71,447.14 2012.96,446.94 2015.21,446.75 2017.45,446.57 2019.7,446.41 2021.95,446.27 2024.19,446.15 2026.44,446.03 2028.69,445.91 2030.94,445.78 2033.18,445.64 2035.43,445.47 2037.68,445.26 2039.93,444.98 2042.17,444.58 2044.42,444.07 2046.67,443.5 2048.92,442.88 2051.16,442.25 2053.41,441.63 2055.66,441.04 2057.91,440.52 2060.15,440.05 2062.4,439.59 2064.65,439.15 2066.9,438.72 2069.14,438.29 2071.39,437.86 2073.64,437.41 2075.89,436.95 2078.13,436.47 2080.38,435.95 2082.63,435.4 2084.87,434.83 2087.12,434.25 2089.37,433.68 2091.62,433.13 2093.86,432.62 2096.11,432.15 2098.36,431.74 2100.61,431.36 2102.85,431.01 2105.1,430.68 2107.35,430.37 2109.6,430.06 2111.84,429.74 2114.09,429.42 2116.34,429.09 2118.59,428.76 2120.83,428.43 2123.08,428.1 2125.33,427.78 2127.58,427.45 2129.82,427.13 2132.07,426.81 2132.79,426.71" fill="none" stroke="#f00" stroke-width="4.46" stroke-dasharray="16.48 7.13" stroke-linejoin="round" stroke-linecap="butt"/>
</g>
<line x1="1508.03" y1="477.5" x2="1508.03" y2="470.6" stroke="#000" stroke-width="2.5"/>
<line x1="1530.49" y1="477.5" x2="1530.49" y2="470.6" stroke="#000" stroke-width="2.5"/>
<line x1="1552.95" y1="477.5" x2="1552.95" y2="462.65" stroke="#000" stroke-width="2.97"/>
<line x1="1575.41" y1="477.5" x2="1575.41" y2="470.6" stroke="#000" stroke-width="2.5"/>
<line x1="1597.87" y1="477.5" x2="1597.87" y2="470.6" stroke="#000" stroke-width="2.5"/>
<line x1="1620.33" y1="477.5" x2="1620.33" y2="470.6" stroke="#000" stroke-width="2.5"/>
<line x1="1642.79" y1="477.5" x2="1642.79" y2="470.6" stroke="#000" stroke-width="2.5"/>
<line x1="1665.25" y1="477.5" x2="1665.25" y2="462.65" stroke="#000" stroke-width="2.97"/>
<line x1="1687.71" y1="477.5" x2="1687.71" y2="470.6" stroke="#000" stroke-width="2.5"/>
<line x1="1710.17" y1="477.5" x2="1710.17" y2="470.6" stroke="#000" stroke-width="2.5"/>
<line x1="1732.63" y1="477.5" x2="1732.63" y2="470.6" stroke="#000" stroke-width="2.5"/>
<line x1="1755.09" y1="477.5" x2="1755.09" y2="470.6" stroke="#000" stroke-width="2.5"/>
<line x1="1777.55" y1="477.5" x2="1777.55" y2="462.65" stroke="#000" stroke-width="2.97"/>
<line x1="1800.01" y1="477.5" x2="1800.01" y2="470.6" stroke="#000" stroke-width="2.5"/>
<line x1="1822.47" y1="477.5" x2="1822.47" y2="470.6" stroke="#000" stroke-width="2.5"/>
<line x1="1844.93" y1="477.5" x2="1844.93" y2="470.6" stroke="#000" stroke-width="2.5"/>
<line x1="1867.39" y1="477.5" x2="1867.39" y2="470.6" stroke="#000" stroke-width="2.5"/>
<line x1="1889.85" y1="477.5" x2="1889.85" y2="462.65" stroke="#000" stroke-width="2.97"/>
<line x1="1912.31" y1="477.5" x2="1912.31" y2="470.6" stroke="#000" stroke-width="2.5"/>
<line x1="1934.77" y1="477.5" x2="1934.77" y2="470.6" stroke="#000" stroke-width="2.5"/>
<line x1="1957.23" y1="477.5" x2="1957.23" y2="470.6" stroke="#000" stroke-width="2.5"/>
<line x1="1979.69" y1="477.5" x2="1979.69" y2="470.6" stroke="#000" stroke-width="2.5"/>
<line x1="2002.15" y1="477.5" x2="2002.15" y2="462.65" stroke="#000" stroke-width="2.97"/>
<line x1="2024.61" y1="477.5" x2="2024.61" y2="470.6" stroke="#000" stroke-width="2.5"/>
<line x1="2047.07" y1="477.5" x2="2047.07" y2="470.6" stroke="#000" stroke-width="2.5"/>
<line x1="2069.53" y1="477.5" x2="2069.53" y2="470.6" stroke="#000" stroke-width="2.5"/>
<line x1="2091.99" y1="477.5" x2="2091.99" y2="470.6" stroke="#000" stroke-width="2.5"/>
<line x1="2114.45" y1="477.5" x2="2114.45" y2="462.65" stroke="#000" stroke-width="2.97"/>
<line x1="2136.91" y1="477.5" x2="2136.91" y2="470.6" stroke="#000" stroke-width="2.5"/>
<line x1="2159.37" y1="477.5" x2="2159.37" y2="470.6" stroke="#000" stroke-width="2.5"/>
<line x1="1496.5" y1="477.5" x2="1511.35" y2="477.5" stroke="#000" stroke-width="2.97"/>
<line x1="1496.5" y1="454.2" x2="1503.4" y2="454.2" stroke="#000" stroke-width="2.5"/>
<line x1="1496.5" y1="430.9" x2="1503.4" y2="430.9" stroke="#000" stroke-width="2.5"/>
<line x1="1496.5" y1="407.6" x2="1503.4" y2="407.6" stroke="#000" stroke-width="2.5"/>
<line x1="1496.5" y1="384.3" x2="1503.4" y2="384.3" stroke="#000" stroke-width="2.5"/>
<line x1="1496.5" y1="361" x2="1511.35" y2="361" stroke="#000" stroke-width="2.97"/>
<line x1="1496.5" y1="337.7" x2="1503.4" y2="337.7" stroke="#000" stroke-width="2.5"/>
<line x1="1496.5" y1="314.4" x2="1503.4" y2="314.4" stroke="#000" stroke-width="2.5"/>
<line x1="1496.5" y1="291.1" x2="1503.4" y2="291.1" stroke="#000" stroke-width="2.5"/>
<line x1="1496.5" y1="267.8" x2="1503.4" y2="267.8" stroke="#000" stroke-width="2.5"/>
<line x1="1496.5" y1="244.5" x2="1511.35" y2="244.5" stroke="#000" stroke-width="2.97"/>
<line x1="1496.5" y1="221.2" x2="1503.4" y2="221.2" stroke="#000" stroke-width="2.5"/>
<line x1="1496.5" y1="197.9" x2="1503.4" y2="197.9" stroke="#000" stroke-width="2.5"/>
<line x1="1496.5" y1="174.6" x2="1503.4" y2="174.6" stroke="#000" stroke-width="2.5"/>
<line x1="1496.5" y1="151.3" x2="1503.4" y2="151.3" stroke="#000" stroke-width="2.5"/>
<line x1="1496.5" y1="128" x2="1511.35" y2="128" stroke="#000" stroke-width="2.97"/>
<line x1="1496.5" y1="104.7" x2="1503.4" y2="104.7" stroke="#000" stroke-width="2.5"/>
<line x1="1496.5" y1="81.4" x2="1503.4" y2="81.4" stroke="#000" stroke-width="2.5"/>
<line x1="1496.5" y1="58.1" x2="1503.4" y2="58.1" stroke="#000" stroke-width="2.5"/>
<line x1="1496.5" y1="34.8" x2="1503.4" y2="34.8" stroke="#000" stroke-width="2.5"/>
<line x1="1496.5" y1="11.5" x2="1511.35" y2="11.5" stroke="#000" stroke-width="2.97"/>
<rect x="1496.5" y="11.5" width="666.9" height="466" fill="none" stroke="#000" stroke-width="1.49"/>
<text x="1552.95" y="505" font-size="29.7" text-anchor="middle">25</text>
<text x="1665.25" y="505" font-size="29.7" text-anchor="middle">50</text>
<text x="1777.55" y="505" font-size="29.7" text-anchor="middle">75</text>
<text x="1889.85" y="505" font-size="29.7" text-anchor="middle">100</text>
<text x="2002.15" y="505" font-size="29.7" text-anchor="middle">125</text>
<text x="2114.45" y="505" font-size="29.7" text-anchor="middle">150</text>
<text x="1491" y="489.45" font-size="29.7" text-anchor="end">0</text>
<text x="1491" y="372.95" font-size="29.7" text-anchor="end">1</text>
<text x="1491" y="256.45" font-size="29.7" text-anchor="end">2</text>
<text x="1491" y="139.95" font-size="29.7" text-anchor="end">3</text>
<text x="1491" y="23.45" font-size="29.7" text-anchor="end">4</text>
<path d="M1788.76,26.35 L2142.86,26.35 Q2148.8,26.35 2148.8,32.29 L2148.8,116.31 Q2148.8,122.25 2142.86,122.25 L1788.76,122.25 Q1782.82,122.25 1782.82,116.31 L1782.82,32.29 Q1782.82,26.35 1788.76,26.35 Z" fill="#fff" fill-opacity="0.8" stroke="#ccc" stroke-opacity="0.8" stroke-width="1.49"/>
<line x1="1794.2" y1="50.3" x2="1853.6" y2="50.3" stroke="#000" stroke-width="4.46" stroke-linecap="square"/>
<line x1="1794.2" y1="93.7" x2="1853.6" y2="93.7" stroke="#f00" stroke-width="4.46" stroke-dasharray="16.48 7.13"/>
<text x="1877.36" y="62.2" font-size="29.7">MSL</text>
<text x="1877.36" y="105.2" font-size="29.7">Type 2(A) Clouds</text>
<g clip-path="url(#c4)">
<polygon points="112.39,722.05 116.89,722.05 121.4,736.51 125.9,745.09 130.4,737.95 134.9,759 139.41,759 143.91,723.76 148.41,688.69 152.91,688.69 157.42,681.1 161.92,705.37 166.42,731.91 170.92,750.36 175.42,767.7 179.93,771.69 184.43,771.69 188.93,778 193.43,796.23 197.94,808.42 202.44,840.56 206.94,836.84 211.44,835.4 215.95,828.87 220.45,832.58 224.95,874.41 229.45,895.35 233.96,895.63 238.46,921.45 242.96,918.4 247.46,907.15 251.97,895.79 256.47,905.66 260.97,905.32 265.47,907.98 269.98,917.01 274.48,941 278.98,942.5 283.48,925.44 287.98,908.98 292.49,901.39 296.99,932.64 301.49,931.7 305.99,934.63 310.5,946.6 315,943.44 319.5,941.39 324,939.01 328.51,946.38 333.01,923.66 337.51,946.55 342.01,946.38 346.52,947.99 351.02,948.98 355.52,951.92 360.02,936.46 364.53,933.86 369.03,931.2 373.53,904.55 378.03,906.49 382.54,925.6 387.04,898.29 391.54,897.96 396.04,938.07 400.54,939.07 405.05,916.74 409.55,945.05 414.05,953.64 418.55,950.81 423.06,949.37 427.56,950.26 432.06,928.59 436.56,917.68 441.07,919.34 445.57,917.35 450.07,916.07 454.57,943.05 459.08,954.19 463.58,955.85 468.08,934.47 472.58,906.49 477.09,901.56 481.59,913.75 486.09,919.01 490.59,952.25 495.1,940.4 499.6,942.72 504.1,939.56 508.6,931.64 513.1,943.55 517.61,958.4 522.11,957.79 526.61,943.28 531.11,942.94 535.62,956.8 540.12,956.8 544.62,956.46 549.12,960.06 553.63,956.13 558.13,876.35 562.63,861.55 567.13,861.55 571.64,922 571.64,994.19 567.13,1006.77 562.63,1009.54 558.13,1006.77 553.63,990.87 549.12,987.6 544.62,990.87 540.12,991.87 535.62,990.2 531.11,990.87 526.61,988.15 522.11,982.06 517.61,983.22 513.1,979.07 508.6,976.35 504.1,985.88 499.6,991.26 495.1,995.14 490.59,1000.45 486.09,1003.78 481.59,1006.77 477.09,1007.32 472.58,1006.77 468.08,1003.11 463.58,996.52 459.08,989.93 454.57,992.59 450.07,981.67 445.57,984.05 441.07,983.33 436.56,984.33 432.06,985.99 427.56,990.92 423.06,989.93 418.55,992.59 414.05,994.53 409.55,993.86 405.05,1002.12 400.54,992.59 396.04,993.2 391.54,1000.12 387.04,1000.12 382.54,993.53 378.03,995.19 373.53,995.86 369.03,991.26 364.53,992.25 360.02,987.66 355.52,984.05 351.02,982.72 346.52,984.17 342.01,984.61 337.51,985.27 333.01,994.47 328.51,985.72 324,986.16 319.5,987.16 315,988.43 310.5,989.43 305.99,990.09 301.49,991.76 296.99,989.76 292.49,998.02 287.98,994.41 283.48,992.09 278.98,989.76 274.48,991.76 269.98,987.16 265.47,986.16 260.97,983.89 256.47,980.73 251.97,977.9 247.46,977.85 242.96,973.58 238.46,974.19 233.96,975.85 229.45,974.19 224.95,973.58 220.45,970.59 215.95,961.73 211.44,959.73 206.94,959.07 202.44,958.73 197.94,960.9 193.43,963.61 188.93,966.55 184.43,965.22 179.93,964.22 175.42,963 170.92,952.58 166.42,948.32 161.92,912.31 157.42,859.95 152.91,887.65 148.41,891.03 143.91,895.57 139.41,899.56 134.9,898.51 130.4,871.14 125.9,858.45 121.4,841.22 116.89,836.46 112.39,836.46" fill="#000" fill-opacity="0.3" stroke="#000" stroke-opacity="0.3" stroke-width="1.49" stroke-linejoin="round"/>
<polyline points="112.39,778.84 116.89,778.84 121.4,790.97 125.9,803.43 130.4,804.54 134.9,828.92 139.41,828.92 143.91,809.42 148.41,789.58 152.91,788.48 157.42,770.25 161.92,801.77 166.42,840.56 170.92,853.3 175.42,865.49 179.93,866.87 184.43,867.98 188.93,873.24 193.43,881.83 197.94,885.05 202.44,900.39 206.94,897.9 211.44,896.4 215.95,895.07 220.45,902 224.95,925.66 229.45,934.02 233.96,935.35 238.46,948.04 242.96,943.89 247.46,940.01 251.97,936.68 256.47,943.17 260.97,944.72 265.47,948.04 269.98,952.03 274.48,966.32 278.98,965.22 283.48,959.68 287.98,951.92 292.49,949.15 296.99,959.9 301.49,960.9 305.99,961.89 310.5,967.43 315,965.49 319.5,964.11 324,962.22 328.51,965.99 333.01,958.85 337.51,965.33 342.01,965.49 346.52,965.99 351.02,965.22 355.52,968.21 360.02,962.56 364.53,962.56 369.03,961.28 373.53,949.98 378.03,950.81 382.54,959.79 387.04,949.04 391.54,948.71 396.04,965.6 400.54,965.6 405.05,959.01 409.55,968.21 414.05,974.47 418.55,971.31 423.06,969.04 427.56,970.54 432.06,955.96 436.56,950.04 441.07,950.7 445.57,950.37 450.07,948.43 454.57,967.6 459.08,971.53 463.58,974.47 468.08,969.54 472.58,957.02 477.09,952.36 481.59,964.88 486.09,965.6 490.59,974.14 495.1,965.6 499.6,967.21 504.1,963.17 508.6,953.14 513.1,961.34 517.61,971.37 522.11,969.59 526.61,965 531.11,966.93 535.62,972.92 540.12,974.19 544.62,974.19 549.12,973.92 553.63,972.92 558.13,945.88 562.63,932.08 567.13,932.08 571.64,972.36" fill="none" stroke="#000" stroke-width="4.46" stroke-linejoin="round" stroke-linecap="square"/>
<polyline points="253.92,909.64 256.17,911.16 258.42,912.69 260.67,914.21 262.92,915.74 265.17,917.27 267.43,918.8 269.68,920.34 271.93,921.89 274.18,923.44 276.43,924.99 278.68,926.54 280.94,928.08 283.19,929.61 285.44,931.12 287.69,932.61 289.94,934.09 292.19,935.56 294.44,937.02 296.7,938.47 298.95,939.91 301.2,941.36 303.45,942.8 305.7,944.25 307.95,945.73 310.2,947.26 312.46,948.8 314.71,950.35 316.96,951.86 319.21,953.33 321.46,954.73 323.71,956.03 325.97,957.22 328.22,958.3 330.47,959.3 332.72,960.23 334.97,961.12 337.22,961.99 339.47,962.86 341.73,963.74 343.98,964.66 346.23,965.65 348.48,966.71 350.73,967.89 352.98,969.16 355.23,970.48 357.49,971.81 359.74,973.11 361.99,974.34 364.24,975.47 366.49,976.46 368.74,977.33 371,978.16 373.25,978.96 375.5,979.72 377.75,980.45 380,981.13 382.25,981.76 384.5,982.34 386.76,982.86 389.01,983.32 391.26,983.73 393.51,984.12 395.76,984.49 398.01,984.84 400.26,985.18 402.52,985.48 404.77,985.76 407.02,985.99 409.27,986.19 411.52,986.35 413.77,986.46 416.03,986.55 418.28,986.63 420.53,986.71 422.78,986.79 425.03,986.85 427.28,986.91 429.53,986.95 431.79,986.98 434.04,987.01 436.29,987.01 438.54,987.01 440.79,986.98 443.04,986.95 445.29,986.9 447.55,986.84 449.8,986.78 452.05,986.7 454.3,986.62 456.55,986.54 458.8,986.45 461.06,986.36 463.31,986.23 465.56,986.07 467.81,985.89 470.06,985.68 472.31,985.46 474.56,985.23 476.82,984.99 479.07,984.74 481.32,984.49 483.57,984.24 485.82,983.99 488.07,983.72 490.32,983.43 492.58,983.14 494.83,982.85 497.08,982.56 499.33,982.27 501.58,981.98 503.83,981.68 506.09,981.39 508.34,981.09 510.59,980.8 512.84,980.51 515.09,980.23 517.34,979.96 519.59,979.69 521.85,979.44 524.1,979.19 526.35,978.94 528.6,978.7 530.85,978.47 533.1,978.24 535.35,978.01 537.61,977.79 539.86,977.58 542.11,977.37 544.36,977.17 546.61,976.97 548.86,976.79 551.12,976.62 553.37,976.47 555.62,976.33 557.87,976.2 560.12,976.07 562.37,975.93 564.62,975.79 566.88,975.63 569.13,975.45 571.38,975.25 573.63,975.01 575.88,974.71 578.13,974.32 580.38,973.85 582.64,973.35 584.89,972.82 587.14,972.28 589.39,971.77 591.64,971.31 593.89,970.9 596.15,970.5 598.4,970.11 600.65,969.72 602.9,969.35 605.15,968.99 607.4,968.66 609.65,968.36 611.91,968.09 614.16,967.85 616.41,967.64 618.66,967.43 620.91,967.24 623.16,967.06 625.41,966.89 627.67,966.72 629.92,966.56 632.17,966.4 634.42,966.23 636.67,966.07 638.92,965.89 641.18,965.72 643.43,965.55 645.68,965.38 647.93,965.21 650.18,965.05 652.43,964.88 654.68,964.71 656.94,964.54 659.19,964.37 661.44,964.19 663.69,964 665.94,963.8 668.19,963.55 670.44,963.28 672.7,963 674.95,962.72 677.2,962.44 679.45,962.19 681.7,961.98 683.95,961.81 686.21,961.69 688.46,961.65 690.71,961.67 692.96,961.72 695.21,961.82 697.46,961.96 699.71,962.14 701.97,962.36 704.22,962.62 706.47,962.92 708.72,963.26 710.97,963.64 713.22,964.05 715.47,964.51 715.7,964.56" fill="none" stroke="#f00" stroke-width="4.46" stroke-dasharray="16.48 7.13" stroke-linejoin="round" stroke-linecap="butt"/>
</g>
<line x1="93.26" y1="1004" x2="93.26" y2="997.1" stroke="#000" stroke-width="2.5"/>
<line x1="115.77" y1="1004" x2="115.77" y2="997.1" stroke="#000" stroke-width="2.5"/>
<line x1="138.28" y1="1004" x2="138.28" y2="989.15" stroke="#000" stroke-width="2.97"/>
<line x1="160.79" y1="1004" x2="160.79" y2="997.1" stroke="#000" stroke-width="2.5"/>
<line x1="183.3" y1="1004" x2="183.3" y2="997.1" stroke="#000" stroke-width="2.5"/>
<line x1="205.82" y1="1004" x2="205.82" y2="997.1" stroke="#000" stroke-width="2.5"/>
<line x1="228.33" y1="1004" x2="228.33" y2="997.1" stroke="#000" stroke-width="2.5"/>
<line x1="250.84" y1="1004" x2="250.84" y2="989.15" stroke="#000" stroke-width="2.97"/>
<line x1="273.35" y1="1004" x2="273.35" y2="997.1" stroke="#000" stroke-width="2.5"/>
<line x1="295.86" y1="1004" x2="295.86" y2="997.1" stroke="#000" stroke-width="2.5"/>
<line x1="318.38" y1="1004" x2="318.38" y2="997.1" stroke="#000" stroke-width="2.5"/>
<line x1="340.89" y1="1004" x2="340.89" y2="997.1" stroke="#000" stroke-width="2.5"/>
<line x1="363.4" y1="1004" x2="363.4" y2="989.15" stroke="#000" stroke-width="2.97"/>
<line x1="385.91" y1="1004" x2="385.91" y2="997.1" stroke="#000" stroke-width="2.5"/>
<line x1="408.42" y1="1004" x2="408.42" y2="997.1" stroke="#000" stroke-width="2.5"/>
<line x1="430.94" y1="1004" x2="430.94" y2="997.1" stroke="#000" stroke-width="2.5"/>
<line x1="453.45" y1="1004" x2="453.45" y2="997.1" stroke="#000" stroke-width="2.5"/>
<line x1="475.96" y1="1004" x2="475.96" y2="989.15" stroke="#000" stroke-width="2.97"/>
<line x1="498.47" y1="1004" x2="498.47" y2="997.1" stroke="#000" stroke-width="2.5"/>
<line x1="520.98" y1="1004" x2="520.98" y2="997.1" stroke="#000" stroke-width="2.5"/>
<line x1="543.5" y1="1004" x2="543.5" y2="997.1" stroke="#000" stroke-width="2.5"/>
<line x1="566.01" y1="1004" x2="566.01" y2="997.1" stroke="#000" stroke-width="2.5"/>
<line x1="588.52" y1="1004" x2="588.52" y2="989.15" stroke="#000" stroke-width="2.97"/>
<line x1="611.03" y1="1004" x2="611.03" y2="997.1" stroke="#000" stroke-width="2.5"/>
<line x1="633.54" y1="1004" x2="633.54" y2="997.1" stroke="#000" stroke-width="2.5"/>
<line x1="656.06" y1="1004" x2="656.06" y2="997.1" stroke="#000" stroke-width="2.5"/>
<line x1="678.57" y1="1004" x2="678.57" y2="997.1" stroke="#000" stroke-width="2.5"/>
<line x1="701.08" y1="1004" x2="701.08" y2="989.15" stroke="#000" stroke-width="2.97"/>
<line x1="723.59" y1="1004" x2="723.59" y2="997.1" stroke="#000" stroke-width="2.5"/>
<line x1="746.1" y1="1004" x2="746.1" y2="997.1" stroke="#000" stroke-width="2.5"/>
<line x1="81.3" y1="1004" x2="96.15" y2="1004" stroke="#000" stroke-width="2.97"/>
<line x1="81.3" y1="980.73" x2="88.2" y2="980.73" stroke="#000" stroke-width="2.5"/>
<line x1="81.3" y1="957.46" x2="88.2" y2="957.46" stroke="#000" stroke-width="2.5"/>
<line x1="81.3" y1="934.19" x2="88.2" y2="934.19" stroke="#000" stroke-width="2.5"/>
<line x1="81.3" y1="910.92" x2="88.2" y2="910.92" stroke="#000" stroke-width="2.5"/>
<line x1="81.3" y1="887.65" x2="96.15" y2="887.65" stroke="#000" stroke-width="2.97"/>
<line x1="81.3" y1="864.38" x2="88.2" y2="864.38" stroke="#000" stroke-width="2.5"/>
<line x1="81.3" y1="841.11" x2="88.2" y2="841.11" stroke="#000" stroke-width="2.5"/>
<line x1="81.3" y1="817.84" x2="88.2" y2="817.84" stroke="#000" stroke-width="2.5"/>
<line x1="81.3" y1="794.57" x2="88.2" y2="794.57" stroke="#000" stroke-width="2.5"/>
<line x1="81.3" y1="771.3" x2="96.15" y2="771.3" stroke="#000" stroke-width="2.97"/>
<line x1="81.3" y1="748.03" x2="88.2" y2="748.03" stroke="#000" stroke-width="2.5"/>
<line x1="81.3" y1="724.76" x2="88.2" y2="724.76" stroke="#000" stroke-width="2.5"/>
<line x1="81.3" y1="701.49" x2="88.2" y2="701.49" stroke="#000" stroke-width="2.5"/>
<line x1="81.3" y1="678.22" x2="88.2" y2="678.22" stroke="#000" stroke-width="2.5"/>
<line x1="81.3" y1="654.95" x2="96.15" y2="654.95" stroke="#000" stroke-width="2.97"/>
<line x1="81.3" y1="631.68" x2="88.2" y2="631.68" stroke="#000" stroke-width="2.5"/>
<line x1="81.3" y1="608.41" x2="88.2" y2="608.41" stroke="#000" stroke-width="2.5"/>
<line x1="81.3" y1="585.14" x2="88.2" y2="585.14" stroke="#000" stroke-width="2.5"/>
<line x1="81.3" y1="561.87" x2="88.2" y2="561.87" stroke="#000" stroke-width="2.5"/>
<line x1="81.3" y1="538.6" x2="96.15" y2="538.6" stroke="#000" stroke-width="2.97"/>
<rect x="81.3" y="538.6" width="667.2" height="465.4" fill="none" stroke="#000" stroke-width="1.49"/>
<text x="138.28" y="1031.5" font-size="29.7" text-anchor="middle">25</text>
<text x="250.84" y="1031.5" font-size="29.7" text-anchor="middle">50</text>
<text x="363.4" y="1031.5" font-size="29.7" text-anchor="middle">75</text>
<text x="475.96" y="1031.5" font-size="29.7" text-anchor="middle">100</text>
<text x="588.52" y="1031.5" font-size="29.7" text-anchor="middle">125</text>
<text x="701.08" y="1031.5" font-size="29.7" text-anchor="middle">150</text>
<text x="75.8" y="1015.95" font-size="29.7" text-anchor="end">0</text>
<text x="75.8" y="899.6" font-size="29.7" text-anchor="end">1</text>
<text x="75.8" y="783.25" font-size="29.7" text-anchor="end">2</text>
<text x="75.8" y="666.9" font-size="29.7" text-anchor="end">3</text>
<text x="75.8" y="550.55" font-size="29.7" text-anchor="end">4</text>
<path d="M373.48,553.45 L727.96,553.45 Q733.9,553.45 733.9,559.39 L733.9,643.41 Q733.9,649.35 727.96,649.35 L373.48,649.35 Q367.54,649.35 367.54,643.41 L367.54,559.39 Q367.54,553.45 373.48,553.45 Z" fill="#fff" fill-opacity="0.8" stroke="#ccc" stroke-opacity="0.8" stroke-width="1.49"/>
<line x1="378.92" y1="577.4" x2="438.32" y2="577.4" stroke="#000" stroke-width="4.46" stroke-linecap="square"/>
<line x1="378.92" y1="620.8" x2="438.32" y2="620.8" stroke="#f00" stroke-width="4.46" stroke-dasharray="16.48 7.13"/>
<text x="462.08" y="589.3" font-size="29.7">MSL</text>
<text x="462.08" y="632.3" font-size="29.7">Type 2(B) Clouds</text>
<g clip-path="url(#c5)">
<polygon points="819.64,665.65 823.97,665.65 828.3,683.01 832.63,693.31 836.97,684.74 841.3,710 845.63,710 849.97,667.72 854.3,625.63 858.63,625.63 862.97,616.52 867.3,645.64 871.63,677.49 875.96,699.63 880.3,720.44 884.63,725.23 888.96,725.23 893.3,732.8 897.63,754.68 901.96,769.31 906.3,807.87 910.63,803.41 914.96,801.68 919.29,793.84 923.63,798.29 927.96,848.49 932.29,873.62 936.63,873.95 940.96,904.94 945.29,901.28 949.63,887.78 953.96,874.15 958.29,885.99 962.62,885.59 966.96,888.78 971.29,899.62 975.62,928.41 979.96,930.2 984.29,909.72 988.62,889.98 992.96,880.87 997.29,918.37 1001.62,917.24 1005.95,920.76 1010.29,935.12 1014.62,931.33 1018.95,928.87 1023.29,926.01 1027.62,934.85 1031.95,907.6 1036.29,935.05 1040.62,934.85 1044.95,936.78 1049.28,937.98 1053.62,941.5 1057.95,922.95 1062.28,919.83 1066.62,916.64 1070.95,884.66 1075.28,886.99 1079.62,909.92 1083.95,877.15 1088.28,876.75 1092.61,924.88 1096.95,926.08 1101.28,899.28 1105.61,933.26 1109.95,943.56 1114.28,940.17 1118.61,938.45 1122.95,939.51 1127.28,913.51 1131.61,900.42 1135.94,902.41 1140.28,900.02 1144.61,898.49 1148.94,930.87 1153.28,944.23 1157.61,946.22 1161.94,920.56 1166.28,886.99 1170.61,881.07 1174.94,895.69 1179.27,902.01 1183.61,941.9 1187.94,927.67 1192.27,930.47 1196.61,926.68 1200.94,917.17 1205.27,931.46 1209.61,949.28 1213.94,948.55 1218.27,931.13 1222.6,930.73 1226.94,947.35 1231.27,947.35 1235.6,946.96 1239.94,951.28 1244.27,946.56 1248.6,850.82 1252.94,833.07 1257.27,833.07 1261.6,905.6 1261.6,992.23 1257.27,1007.32 1252.94,1010.65 1248.6,1007.32 1244.27,988.24 1239.94,984.32 1235.6,988.24 1231.27,989.44 1226.94,987.45 1222.6,988.24 1218.27,984.99 1213.94,977.67 1209.61,979.07 1205.27,974.08 1200.94,970.82 1196.61,982.26 1192.27,988.71 1187.94,993.36 1183.61,999.74 1179.27,1003.73 1174.94,1007.32 1170.61,1007.99 1166.28,1007.32 1161.94,1002.94 1157.61,995.02 1153.28,987.11 1148.94,990.3 1144.61,977.21 1140.28,980.07 1135.94,979.2 1131.61,980.4 1127.28,982.39 1122.95,988.31 1118.61,987.11 1114.28,990.3 1109.95,992.63 1105.61,991.83 1101.28,1001.74 1096.95,990.3 1092.61,991.04 1088.28,999.35 1083.95,999.35 1079.62,991.43 1075.28,993.43 1070.95,994.23 1066.62,988.71 1062.28,989.91 1057.95,984.39 1053.62,980.07 1049.28,978.47 1044.95,980.2 1040.62,980.73 1036.29,981.53 1031.95,992.56 1027.62,982.06 1023.29,982.59 1018.95,983.79 1014.62,985.32 1010.29,986.51 1005.95,987.31 1001.62,989.31 997.29,986.91 992.96,996.82 988.62,992.5 984.29,989.71 979.96,986.91 975.62,989.31 971.29,983.79 966.96,982.59 962.62,979.87 958.29,976.08 953.96,972.69 949.63,972.62 945.29,967.5 940.96,968.23 936.63,970.23 932.29,968.23 927.96,967.5 923.63,963.91 919.29,953.27 914.96,950.88 910.63,950.08 906.3,949.68 901.96,952.27 897.63,955.53 893.3,959.06 888.96,957.46 884.63,956.26 880.3,954.8 875.96,942.3 871.63,937.18 867.3,893.97 862.97,831.14 858.63,864.38 854.3,868.44 849.97,873.89 845.63,878.67 841.3,877.41 836.97,844.57 832.63,829.34 828.3,808.66 823.97,802.95 819.64,802.95" fill="#000" fill-opacity="0.3" stroke="#000" stroke-opacity="0.3" stroke-width="1.49" stroke-linejoin="round"/>
<polyline points="819.64,733.8 823.97,733.8 828.3,748.36 832.63,763.32 836.97,764.65 841.3,793.91 845.63,793.91 849.97,770.5 854.3,746.7 858.63,745.37 862.97,723.5 867.3,761.33 871.63,807.87 875.96,823.16 880.3,837.79 884.63,839.45 888.96,840.78 893.3,847.09 897.63,857.4 901.96,861.26 906.3,879.67 910.63,876.68 914.96,874.88 919.29,873.29 923.63,881.6 927.96,909.99 932.29,920.03 936.63,921.62 940.96,936.85 945.29,931.86 949.63,927.21 953.96,923.22 958.29,931 962.62,932.86 966.96,936.85 971.29,941.64 975.62,958.79 979.96,957.46 984.29,950.81 988.62,941.5 992.96,938.18 997.29,951.08 1001.62,952.27 1005.95,953.47 1010.29,960.12 1014.62,957.79 1018.95,956.13 1023.29,953.87 1027.62,958.39 1031.95,949.81 1036.29,957.59 1040.62,957.79 1044.95,958.39 1049.28,957.46 1053.62,961.05 1057.95,954.27 1062.28,954.27 1066.62,952.74 1070.95,939.18 1075.28,940.17 1079.62,950.94 1083.95,938.05 1088.28,937.65 1092.61,957.93 1096.95,957.93 1101.28,950.01 1105.61,961.05 1109.95,968.56 1114.28,964.77 1118.61,962.05 1122.95,963.84 1127.28,946.36 1131.61,939.24 1135.94,940.04 1140.28,939.64 1144.61,937.31 1148.94,960.32 1153.28,965.04 1157.61,968.56 1161.94,962.65 1166.28,947.62 1170.61,942.04 1174.94,957.06 1179.27,957.93 1183.61,968.16 1187.94,957.93 1192.27,959.85 1196.61,955 1200.94,942.97 1205.27,952.81 1209.61,964.84 1213.94,962.71 1218.27,957.19 1222.6,959.52 1226.94,966.7 1231.27,968.23 1235.6,968.23 1239.94,967.9 1244.27,966.7 1248.6,934.26 1252.94,917.7 1257.27,917.7 1261.6,966.04" fill="none" stroke="#000" stroke-width="4.46" stroke-linejoin="round" stroke-linecap="square"/>
<polyline points="956.82,908.83 958.98,910.08 961.15,911.33 963.32,912.56 965.49,913.79 967.66,915 969.83,916.2 971.99,917.39 974.16,918.57 976.33,919.73 978.5,920.88 980.67,922.02 982.84,923.15 985.01,924.26 987.17,925.37 989.34,926.47 991.51,927.55 993.68,928.63 995.85,929.7 998.02,930.75 1000.19,931.8 1002.35,932.84 1004.52,933.88 1006.69,934.91 1008.86,935.94 1011.03,936.98 1013.2,938.02 1015.36,939.04 1017.53,940.06 1019.7,941.05 1021.87,942.03 1024.04,942.98 1026.21,943.89 1028.38,944.77 1030.54,945.61 1032.71,946.41 1034.88,947.2 1037.05,947.96 1039.22,948.7 1041.39,949.42 1043.56,950.12 1045.72,950.8 1047.89,951.47 1050.06,952.13 1052.23,952.77 1054.4,953.4 1056.57,954.02 1058.73,954.62 1060.9,955.22 1063.07,955.8 1065.24,956.37 1067.41,956.93 1069.58,957.48 1071.75,958.01 1073.91,958.54 1076.08,959.06 1078.25,959.56 1080.42,960.06 1082.59,960.55 1084.76,961.04 1086.93,961.53 1089.09,962.01 1091.26,962.49 1093.43,962.96 1095.6,963.42 1097.77,963.87 1099.94,964.3 1102.1,964.71 1104.27,965.1 1106.44,965.46 1108.61,965.8 1110.78,966.12 1112.95,966.43 1115.12,966.73 1117.28,967.01 1119.45,967.29 1121.62,967.55 1123.79,967.8 1125.96,968.05 1128.13,968.28 1130.3,968.5 1132.46,968.72 1134.63,968.92 1136.8,969.11 1138.97,969.29 1141.14,969.46 1143.31,969.62 1145.47,969.77 1147.64,969.92 1149.81,970.07 1151.98,970.23 1154.15,970.38 1156.32,970.55 1158.49,970.72 1160.65,970.9 1162.82,971.1 1164.99,971.3 1167.16,971.51 1169.33,971.73 1171.5,971.95 1173.67,972.17 1175.83,972.39 1178,972.62 1180.17,972.84 1182.34,973.06 1184.51,973.28 1186.68,973.49 1188.84,973.71 1191.01,973.93 1193.18,974.16 1195.35,974.39 1197.52,974.62 1199.69,974.85 1201.86,975.07 1204.02,975.29 1206.19,975.51 1208.36,975.72 1210.53,975.93 1212.7,976.12 1214.87,976.31 1217.04,976.48 1219.2,976.64 1221.37,976.79 1223.54,976.95 1225.71,977.09 1227.88,977.24 1230.05,977.38 1232.21,977.52 1234.38,977.66 1236.55,977.79 1238.72,977.92 1240.89,978.04 1243.06,978.15 1245.23,978.25 1247.39,978.35 1249.56,978.44 1251.73,978.52 1253.9,978.59 1256.07,978.65 1258.24,978.71 1260.41,978.76 1262.57,978.82 1264.74,978.87 1266.91,978.93 1269.08,978.98 1271.25,979.03 1273.42,979.08 1275.58,979.12 1277.75,979.16 1279.92,979.21 1282.09,979.24 1284.26,979.28 1286.43,979.31 1288.6,979.34 1290.76,979.37 1292.93,979.39 1295.1,979.41 1297.27,979.43 1299.44,979.44 1301.61,979.45 1303.78,979.45 1305.94,979.45 1308.11,979.45 1310.28,979.45 1312.45,979.45 1314.62,979.45 1316.79,979.45 1318.95,979.45 1321.12,979.45 1323.29,979.45 1325.46,979.45 1327.63,979.45 1329.8,979.45 1331.97,979.45 1334.13,979.45 1336.3,979.45 1338.47,979.45 1340.64,979.45 1342.81,979.45 1344.98,979.45 1347.15,979.45 1349.31,979.45 1351.48,979.45 1353.65,979.45 1355.82,979.45 1357.99,979.45 1360.16,979.45 1362.32,979.45 1364.49,979.45 1366.66,979.45 1368.83,979.45 1371,979.45 1373.17,979.45 1375.34,979.45 1377.5,979.45 1379.67,979.45 1381.84,979.45 1384.01,979.45 1386.18,979.45 1388.35,979.45 1390.52,979.45 1392.68,979.45 1394.85,979.45 1397.02,979.45 1399.19,979.45 1401.36,979.45 1403.53,979.45 1405.69,979.45 1407.86,979.45 1410.03,979.45 1412.2,979.45 1414.37,979.45 1416.54,979.45 1418.71,979.45 1420.87,979.45 1423.04,979.45 1425.21,979.45" fill="none" stroke="#f00" stroke-width="4.46" stroke-dasharray="16.48 7.13" stroke-linejoin="round" stroke-linecap="butt"/>
</g>
<line x1="801.22" y1="1004" x2="801.22" y2="997.1" stroke="#000" stroke-width="2.5"/>
<line x1="822.88" y1="1004" x2="822.88" y2="997.1" stroke="#000" stroke-width="2.5"/>
<line x1="844.55" y1="1004" x2="844.55" y2="989.15" stroke="#000" stroke-width="2.97"/>
<line x1="866.21" y1="1004" x2="866.21" y2="997.1" stroke="#000" stroke-width="2.5"/>
<line x1="887.88" y1="1004" x2="887.88" y2="997.1" stroke="#000" stroke-width="2.5"/>
<line x1="909.54" y1="1004" x2="909.54" y2="997.1" stroke="#000" stroke-width="2.5"/>
<line x1="931.21" y1="1004" x2="931.21" y2="997.1" stroke="#000" stroke-width="2.5"/>
<line x1="952.88" y1="1004" x2="952.88" y2="989.15" stroke="#000" stroke-width="2.97"/>
<line x1="974.54" y1="1004" x2="974.54" y2="997.1" stroke="#000" stroke-width="2.5"/>
<line x1="996.2" y1="1004" x2="996.2" y2="997.1" stroke="#000" stroke-width="2.5"/>
<line x1="1017.87" y1="1004" x2="1017.87" y2="997.1" stroke="#000" stroke-width="2.5"/>
<line x1="1039.53" y1="1004" x2="1039.53" y2="997.1" stroke="#000" stroke-width="2.5"/>
<line x1="1061.2" y1="1004" x2="1061.2" y2="989.15" stroke="#000" stroke-width="2.97"/>
<line x1="1082.87" y1="1004" x2="1082.87" y2="997.1" stroke="#000" stroke-width="2.5"/>
<line x1="1104.53" y1="1004" x2="1104.53" y2="997.1" stroke="#000" stroke-width="2.5"/>
<line x1="1126.19" y1="1004" x2="1126.19" y2="997.1" stroke="#000" stroke-width="2.5"/>
<line x1="1147.86" y1="1004" x2="1147.86" y2="997.1" stroke="#000" stroke-width="2.5"/>
<line x1="1169.53" y1="1004" x2="1169.53" y2="989.15" stroke="#000" stroke-width="2.97"/>
<line x1="1191.19" y1="1004" x2="1191.19" y2="997.1" stroke="#000" stroke-width="2.5"/>
<line x1="1212.86" y1="1004" x2="1212.86" y2="997.1" stroke="#000" stroke-width="2.5"/>
<line x1="1234.52" y1="1004" x2="1234.52" y2="997.1" stroke="#000" stroke-width="2.5"/>
<line x1="1256.18" y1="1004" x2="1256.18" y2="997.1" stroke="#000" stroke-width="2.5"/>
<line x1="1277.85" y1="1004" x2="1277.85" y2="989.15" stroke="#000" stroke-width="2.97"/>
<line x1="1299.51" y1="1004" x2="1299.51" y2="997.1" stroke="#000" stroke-width="2.5"/>
<line x1="1321.18" y1="1004" x2="1321.18" y2="997.1" stroke="#000" stroke-width="2.5"/>
<line x1="1342.85" y1="1004" x2="1342.85" y2="997.1" stroke="#000" stroke-width="2.5"/>
<line x1="1364.51" y1="1004" x2="1364.51" y2="997.1" stroke="#000" stroke-width="2.5"/>
<line x1="1386.17" y1="1004" x2="1386.17" y2="989.15" stroke="#000" stroke-width="2.97"/>
<line x1="1407.84" y1="1004" x2="1407.84" y2="997.1" stroke="#000" stroke-width="2.5"/>
<line x1="1429.51" y1="1004" x2="1429.51" y2="997.1" stroke="#000" stroke-width="2.5"/>
<line x1="1451.17" y1="1004" x2="1451.17" y2="997.1" stroke="#000" stroke-width="2.5"/>
<line x1="789.1" y1="1004" x2="803.95" y2="1004" stroke="#000" stroke-width="2.97"/>
<line x1="789.1" y1="980.73" x2="796" y2="980.73" stroke="#000" stroke-width="2.5"/>
<line x1="789.1" y1="957.46" x2="796" y2="957.46" stroke="#000" stroke-width="2.5"/>
<line x1="789.1" y1="934.19" x2="796" y2="934.19" stroke="#000" stroke-width="2.5"/>
<line x1="789.1" y1="910.92" x2="796" y2="910.92" stroke="#000" stroke-width="2.5"/>
<line x1="789.1" y1="887.65" x2="803.95" y2="887.65" stroke="#000" stroke-width="2.97"/>
<line x1="789.1" y1="864.38" x2="796" y2="864.38" stroke="#000" stroke-width="2.5"/>
<line x1="789.1" y1="841.11" x2="796" y2="841.11" stroke="#000" stroke-width="2.5"/>
<line x1="789.1" y1="817.84" x2="796" y2="817.84" stroke="#000" stroke-width="2.5"/>
<line x1="789.1" y1="794.57" x2="796" y2="794.57" stroke="#000" stroke-width="2.5"/>
<line x1="789.1" y1="771.3" x2="803.95" y2="771.3" stroke="#000" stroke-width="2.97"/>
<line x1="789.1" y1="748.03" x2="796" y2="748.03" stroke="#000" stroke-width="2.5"/>
<line x1="789.1" y1="724.76" x2="796" y2="724.76" stroke="#000" stroke-width="2.5"/>
<line x1="789.1" y1="701.49" x2="796" y2="701.49" stroke="#000" stroke-width="2.5"/>
<line x1="789.1" y1="678.22" x2="796" y2="678.22" stroke="#000" stroke-width="2.5"/>
<line x1="789.1" y1="654.95" x2="803.95" y2="654.95" stroke="#000" stroke-width="2.97"/>
<line x1="789.1" y1="631.68" x2="796" y2="631.68" stroke="#000" stroke-width="2.5"/>
<line x1="789.1" y1="608.41" x2="796" y2="608.41" stroke="#000" stroke-width="2.5"/>
<line x1="789.1" y1="585.14" x2="796" y2="585.14" stroke="#000" stroke-width="2.5"/>
<line x1="789.1" y1="561.87" x2="796" y2="561.87" stroke="#000" stroke-width="2.5"/>
<line x1="789.1" y1="538.6" x2="803.95" y2="538.6" stroke="#000" stroke-width="2.97"/>
<rect x="789.1" y="538.6" width="667.3" height="465.4" fill="none" stroke="#000" stroke-width="1.49"/>
<text x="844.55" y="1031.5" font-size="29.7" text-anchor="middle">25</text>
<text x="952.88" y="1031.5" font-size="29.7" text-anchor="middle">50</text>
<text x="1061.2" y="1031.5" font-size="29.7" text-anchor="middle">75</text>
<text x="1169.53" y="1031.5" font-size="29.7" text-anchor="middle">100</text>
<text x="1277.85" y="1031.5" font-size="29.7" text-anchor="middle">125</text>
<text x="1386.17" y="1031.5" font-size="29.7" text-anchor="middle">150</text>
<text x="783.6" y="1015.95" font-size="29.7" text-anchor="end">0</text>
<text x="783.6" y="899.6" font-size="29.7" text-anchor="end">1</text>
<text x="783.6" y="783.25" font-size="29.7" text-anchor="end">2</text>
<text x="783.6" y="666.9" font-size="29.7" text-anchor="end">3</text>
<text x="783.6" y="550.55" font-size="29.7" text-anchor="end">4</text>
<path d="M1165.2,553.45 L1435.86,553.45 Q1441.8,553.45 1441.8,559.39 L1441.8,643.41 Q1441.8,649.35 1435.86,649.35 L1165.2,649.35 Q1159.26,649.35 1159.26,643.41 L1159.26,559.39 Q1159.26,553.45 1165.2,553.45 Z" fill="#fff" fill-opacity="0.8" stroke="#ccc" stroke-opacity="0.8" stroke-width="1.49"/>
<line x1="1170.64" y1="577.4" x2="1230.04" y2="577.4" stroke="#000" stroke-width="4.46" stroke-linecap="square"/>
<line x1="1170.64" y1="620.8" x2="1230.04" y2="620.8" stroke="#f00" stroke-width="4.46" stroke-dasharray="16.48 7.13"/>
<text x="1253.8" y="589.3" font-size="29.7">MSL</text>
<text x="1253.8" y="632.3" font-size="29.7">Viking Dust</text>
<g clip-path="url(#c6)">
<polygon points="1526.6,665.65 1530.94,665.65 1535.28,683.01 1539.62,693.31 1543.96,684.74 1548.3,710 1552.63,710 1556.97,667.72 1561.31,625.63 1565.65,625.63 1569.99,616.52 1574.33,645.64 1578.67,677.49 1583.01,699.63 1587.35,720.44 1591.68,725.23 1596.02,725.23 1600.36,732.8 1604.7,754.68 1609.04,769.31 1613.38,807.87 1617.72,803.41 1622.06,801.68 1626.4,793.84 1630.73,798.29 1635.07,848.49 1639.41,873.62 1643.75,873.95 1648.09,904.94 1652.43,901.28 1656.77,887.78 1661.11,874.15 1665.45,885.99 1669.79,885.59 1674.12,888.78 1678.46,899.62 1682.8,928.41 1687.14,930.2 1691.48,909.72 1695.82,889.98 1700.16,880.87 1704.5,918.37 1708.84,917.24 1713.17,920.76 1717.51,935.12 1721.85,931.33 1726.19,928.87 1730.53,926.01 1734.87,934.85 1739.21,907.6 1743.55,935.05 1747.89,934.85 1752.22,936.78 1756.56,937.98 1760.9,941.5 1765.24,922.95 1769.58,919.83 1773.92,916.64 1778.26,884.66 1782.6,886.99 1786.94,909.92 1791.27,877.15 1795.61,876.75 1799.95,924.88 1804.29,926.08 1808.63,899.28 1812.97,933.26 1817.31,943.56 1821.65,940.17 1825.99,938.45 1830.32,939.51 1834.66,913.51 1839,900.42 1843.34,902.41 1847.68,900.02 1852.02,898.49 1856.36,930.87 1860.7,944.23 1865.04,946.22 1869.37,920.56 1873.71,886.99 1878.05,881.07 1882.39,895.69 1886.73,902.01 1891.07,941.9 1895.41,927.67 1899.75,930.47 1904.09,926.68 1908.42,917.17 1912.76,931.46 1917.1,949.28 1921.44,948.55 1925.78,931.13 1930.12,930.73 1934.46,947.35 1938.8,947.35 1943.14,946.96 1947.47,951.28 1951.81,946.56 1956.15,850.82 1960.49,833.07 1964.83,833.07 1969.17,905.6 1969.17,992.23 1964.83,1007.32 1960.49,1010.65 1956.15,1007.32 1951.81,988.24 1947.47,984.32 1943.14,988.24 1938.8,989.44 1934.46,987.45 1930.12,988.24 1925.78,984.99 1921.44,977.67 1917.1,979.07 1912.76,974.08 1908.42,970.82 1904.09,982.26 1899.75,988.71 1895.41,993.36 1891.07,999.74 1886.73,1003.73 1882.39,1007.32 1878.05,1007.99 1873.71,1007.32 1869.37,1002.94 1865.04,995.02 1860.7,987.11 1856.36,990.3 1852.02,977.21 1847.68,980.07 1843.34,979.2 1839,980.4 1834.66,982.39 1830.32,988.31 1825.99,987.11 1821.65,990.3 1817.31,992.63 1812.97,991.83 1808.63,1001.74 1804.29,990.3 1799.95,991.04 1795.61,999.35 1791.27,999.35 1786.94,991.43 1782.6,993.43 1778.26,994.23 1773.92,988.71 1769.58,989.91 1765.24,984.39 1760.9,980.07 1756.56,978.47 1752.22,980.2 1747.89,980.73 1743.55,981.53 1739.21,992.56 1734.87,982.06 1730.53,982.59 1726.19,983.79 1721.85,985.32 1717.51,986.51 1713.17,987.31 1708.84,989.31 1704.5,986.91 1700.16,996.82 1695.82,992.5 1691.48,989.71 1687.14,986.91 1682.8,989.31 1678.46,983.79 1674.12,982.59 1669.79,979.87 1665.45,976.08 1661.11,972.69 1656.77,972.62 1652.43,967.5 1648.09,968.23 1643.75,970.23 1639.41,968.23 1635.07,967.5 1630.73,963.91 1626.4,953.27 1622.06,950.88 1617.72,950.08 1613.38,949.68 1609.04,952.27 1604.7,955.53 1600.36,959.06 1596.02,957.46 1591.68,956.26 1587.35,954.8 1583.01,942.3 1578.67,937.18 1574.33,893.97 1569.99,831.14 1565.65,864.38 1561.31,868.44 1556.97,873.89 1552.63,878.67 1548.3,877.41 1543.96,844.57 1539.62,829.34 1535.28,808.66 1530.94,802.95 1526.6,802.95" fill="#000" fill-opacity="0.3" stroke="#000" stroke-opacity="0.3" stroke-width="1.49" stroke-linejoin="round"/>
<polyline points="1526.6,733.8 1530.94,733.8 1535.28,748.36 1539.62,763.32 1543.96,764.65 1548.3,793.91 1552.63,793.91 1556.97,770.5 1561.31,746.7 1565.65,745.37 1569.99,723.5 1574.33,761.33 1578.67,807.87 1583.01,823.16 1587.35,837.79 1591.68,839.45 1596.02,840.78 1600.36,847.09 1604.7,857.4 1609.04,861.26 1613.38,879.67 1617.72,876.68 1622.06,874.88 1626.4,873.29 1630.73,881.6 1635.07,909.99 1639.41,920.03 1643.75,921.62 1648.09,936.85 1652.43,931.86 1656.77,927.21 1661.11,923.22 1665.45,931 1669.79,932.86 1674.12,936.85 1678.46,941.64 1682.8,958.79 1687.14,957.46 1691.48,950.81 1695.82,941.5 1700.16,938.18 1704.5,951.08 1708.84,952.27 1713.17,953.47 1717.51,960.12 1721.85,957.79 1726.19,956.13 1730.53,953.87 1734.87,958.39 1739.21,949.81 1743.55,957.59 1747.89,957.79 1752.22,958.39 1756.56,957.46 1760.9,961.05 1765.24,954.27 1769.58,954.27 1773.92,952.74 1778.26,939.18 1782.6,940.17 1786.94,950.94 1791.27,938.05 1795.61,937.65 1799.95,957.93 1804.29,957.93 1808.63,950.01 1812.97,961.05 1817.31,968.56 1821.65,964.77 1825.99,962.05 1830.32,963.84 1834.66,946.36 1839,939.24 1843.34,940.04 1847.68,939.64 1852.02,937.31 1856.36,960.32 1860.7,965.04 1865.04,968.56 1869.37,962.65 1873.71,947.62 1878.05,942.04 1882.39,957.06 1886.73,957.93 1891.07,968.16 1895.41,957.93 1899.75,959.85 1904.09,955 1908.42,942.97 1912.76,952.81 1917.1,964.84 1921.44,962.71 1925.78,957.19 1930.12,959.52 1934.46,966.7 1938.8,968.23 1943.14,968.23 1947.47,967.9 1951.81,966.7 1956.15,934.26 1960.49,917.7 1964.83,917.7 1969.17,966.04" fill="none" stroke="#000" stroke-width="4.46" stroke-linejoin="round" stroke-linecap="square"/>
<polyline points="1664.89,908.83 1667.06,910.06 1669.22,911.29 1671.39,912.52 1673.56,913.75 1675.73,914.97 1677.89,916.19 1680.06,917.41 1682.23,918.63 1684.39,919.85 1686.56,921.06 1688.73,922.27 1690.89,923.5 1693.06,924.75 1695.23,926.02 1697.4,927.29 1699.56,928.57 1701.73,929.83 1703.9,931.07 1706.06,932.28 1708.23,933.46 1710.4,934.58 1712.56,935.65 1714.73,936.65 1716.9,937.6 1719.07,938.52 1721.23,939.41 1723.4,940.28 1725.57,941.12 1727.73,941.93 1729.9,942.72 1732.07,943.48 1734.23,944.23 1736.4,944.96 1738.57,945.67 1740.74,946.36 1742.9,947.03 1745.07,947.68 1747.24,948.31 1749.4,948.92 1751.57,949.51 1753.74,950.1 1755.9,950.67 1758.07,951.24 1760.24,951.8 1762.41,952.36 1764.57,952.92 1766.74,953.48 1768.91,954.05 1771.07,954.62 1773.24,955.2 1775.41,955.78 1777.57,956.35 1779.74,956.92 1781.91,957.47 1784.08,958 1786.24,958.51 1788.41,958.99 1790.58,959.45 1792.74,959.87 1794.91,960.27 1797.08,960.66 1799.24,961.03 1801.41,961.39 1803.58,961.74 1805.75,962.07 1807.91,962.39 1810.08,962.7 1812.25,963 1814.41,963.28 1816.58,963.56 1818.75,963.82 1820.91,964.08 1823.08,964.33 1825.25,964.58 1827.42,964.82 1829.58,965.05 1831.75,965.27 1833.92,965.48 1836.08,965.68 1838.25,965.87 1840.42,966.04 1842.58,966.2 1844.75,966.35 1846.92,966.49 1849.09,966.62 1851.25,966.75 1853.42,966.87 1855.59,966.99 1857.75,967.1 1859.92,967.2 1862.09,967.29 1864.25,967.38 1866.42,967.47 1868.59,967.54 1870.76,967.61 1872.92,967.67 1875.09,967.72 1877.26,967.77 1879.42,967.81 1881.59,967.85 1883.76,967.89 1885.92,967.93 1888.09,967.97 1890.26,968.02 1892.43,968.07 1894.59,968.13 1896.76,968.2 1898.93,968.3 1901.09,968.42 1903.26,968.56 1905.43,968.72 1907.59,968.89 1909.76,969.06 1911.93,969.24 1914.1,969.41 1916.26,969.57 1918.43,969.73 1920.6,969.86 1922.76,969.98 1924.93,970.06 1927.1,970.12 1929.26,970.14 1931.43,970.14 1933.6,970.14 1935.77,970.13 1937.93,970.12 1940.1,970.11 1942.27,970.1 1944.43,970.09 1946.6,970.07 1948.77,970.06 1950.93,970.05 1953.1,970.04 1955.27,970.03 1957.44,970.03 1959.6,970.03 1961.77,970.03 1963.94,970.07 1966.1,970.14 1968.27,970.23 1970.44,970.35 1972.6,970.49 1974.77,970.65 1976.94,970.82 1979.11,971 1981.27,971.19 1983.44,971.37 1985.61,971.56 1987.77,971.74 1989.94,971.91 1992.11,972.07 1994.27,972.22 1996.44,972.38 1998.61,972.54 2000.78,972.71 2002.94,972.88 2005.11,973.05 2007.28,973.22 2009.44,973.39 2011.61,973.55 2013.78,973.72 2015.94,973.87 2018.11,974.02 2020.28,974.16 2022.45,974.3 2024.61,974.42 2026.78,974.53 2028.95,974.64 2031.11,974.76 2033.28,974.88 2035.45,974.99 2037.61,975.11 2039.78,975.22 2041.95,975.32 2044.12,975.42 2046.28,975.5 2048.45,975.57 2050.62,975.64 2052.78,975.68 2054.95,975.71 2057.12,975.73 2059.28,975.73 2061.45,975.73 2063.62,975.73 2065.79,975.73 2067.95,975.73 2070.12,975.73 2072.29,975.73 2074.45,975.73 2076.62,975.73 2078.79,975.73 2080.95,975.73 2083.12,975.73 2085.29,975.73 2087.46,975.73 2089.62,975.73 2091.79,975.71 2093.96,975.64 2096.12,975.55 2098.29,975.42 2100.46,975.26 2102.62,975.09 2104.79,974.9 2106.96,974.71 2109.13,974.51 2111.29,974.33 2113.46,974.15 2115.63,973.98 2117.79,973.81 2119.96,973.63 2122.13,973.45 2124.29,973.26 2126.46,973.07 2128.63,972.88 2130.8,972.68 2131.79,972.59" fill="none" stroke="#f00" stroke-width="4.46" stroke-dasharray="16.48 7.13" stroke-linejoin="round" stroke-linecap="butt"/>
</g>
<line x1="1508.16" y1="1004" x2="1508.16" y2="997.1" stroke="#000" stroke-width="2.5"/>
<line x1="1529.86" y1="1004" x2="1529.86" y2="997.1" stroke="#000" stroke-width="2.5"/>
<line x1="1551.55" y1="1004" x2="1551.55" y2="989.15" stroke="#000" stroke-width="2.97"/>
<line x1="1573.24" y1="1004" x2="1573.24" y2="997.1" stroke="#000" stroke-width="2.5"/>
<line x1="1594.94" y1="1004" x2="1594.94" y2="997.1" stroke="#000" stroke-width="2.5"/>
<line x1="1616.63" y1="1004" x2="1616.63" y2="997.1" stroke="#000" stroke-width="2.5"/>
<line x1="1638.33" y1="1004" x2="1638.33" y2="997.1" stroke="#000" stroke-width="2.5"/>
<line x1="1660.02" y1="1004" x2="1660.02" y2="989.15" stroke="#000" stroke-width="2.97"/>
<line x1="1681.72" y1="1004" x2="1681.72" y2="997.1" stroke="#000" stroke-width="2.5"/>
<line x1="1703.41" y1="1004" x2="1703.41" y2="997.1" stroke="#000" stroke-width="2.5"/>
<line x1="1725.11" y1="1004" x2="1725.11" y2="997.1" stroke="#000" stroke-width="2.5"/>
<line x1="1746.8" y1="1004" x2="1746.8" y2="997.1" stroke="#000" stroke-width="2.5"/>
<line x1="1768.49" y1="1004" x2="1768.49" y2="989.15" stroke="#000" stroke-width="2.97"/>
<line x1="1790.19" y1="1004" x2="1790.19" y2="997.1" stroke="#000" stroke-width="2.5"/>
<line x1="1811.88" y1="1004" x2="1811.88" y2="997.1" stroke="#000" stroke-width="2.5"/>
<line x1="1833.58" y1="1004" x2="1833.58" y2="997.1" stroke="#000" stroke-width="2.5"/>
<line x1="1855.27" y1="1004" x2="1855.27" y2="997.1" stroke="#000" stroke-width="2.5"/>
<line x1="1876.97" y1="1004" x2="1876.97" y2="989.15" stroke="#000" stroke-width="2.97"/>
<line x1="1898.66" y1="1004" x2="1898.66" y2="997.1" stroke="#000" stroke-width="2.5"/>
<line x1="1920.36" y1="1004" x2="1920.36" y2="997.1" stroke="#000" stroke-width="2.5"/>
<line x1="1942.05" y1="1004" x2="1942.05" y2="997.1" stroke="#000" stroke-width="2.5"/>
<line x1="1963.75" y1="1004" x2="1963.75" y2="997.1" stroke="#000" stroke-width="2.5"/>
<line x1="1985.44" y1="1004" x2="1985.44" y2="989.15" stroke="#000" stroke-width="2.97"/>
<line x1="2007.13" y1="1004" x2="2007.13" y2="997.1" stroke="#000" stroke-width="2.5"/>
<line x1="2028.83" y1="1004" x2="2028.83" y2="997.1" stroke="#000" stroke-width="2.5"/>
<line x1="2050.52" y1="1004" x2="2050.52" y2="997.1" stroke="#000" stroke-width="2.5"/>
<line x1="2072.22" y1="1004" x2="2072.22" y2="997.1" stroke="#000" stroke-width="2.5"/>
<line x1="2093.91" y1="1004" x2="2093.91" y2="989.15" stroke="#000" stroke-width="2.97"/>
<line x1="2115.61" y1="1004" x2="2115.61" y2="997.1" stroke="#000" stroke-width="2.5"/>
<line x1="2137.3" y1="1004" x2="2137.3" y2="997.1" stroke="#000" stroke-width="2.5"/>
<line x1="2159" y1="1004" x2="2159" y2="997.1" stroke="#000" stroke-width="2.5"/>
<line x1="1496.3" y1="1004" x2="1511.15" y2="1004" stroke="#000" stroke-width="2.97"/>
<line x1="1496.3" y1="980.73" x2="1503.2" y2="980.73" stroke="#000" stroke-width="2.5"/>
<line x1="1496.3" y1="957.46" x2="1503.2" y2="957.46" stroke="#000" stroke-width="2.5"/>
<line x1="1496.3" y1="934.19" x2="1503.2" y2="934.19" stroke="#000" stroke-width="2.5"/>
<line x1="1496.3" y1="910.92" x2="1503.2" y2="910.92" stroke="#000" stroke-width="2.5"/>
<line x1="1496.3" y1="887.65" x2="1511.15" y2="887.65" stroke="#000" stroke-width="2.97"/>
<line x1="1496.3" y1="864.38" x2="1503.2" y2="864.38" stroke="#000" stroke-width="2.5"/>
<line x1="1496.3" y1="841.11" x2="1503.2" y2="841.11" stroke="#000" stroke-width="2.5"/>
<line x1="1496.3" y1="817.84" x2="1503.2" y2="817.84" stroke="#000" stroke-width="2.5"/>
<line x1="1496.3" y1="794.57" x2="1503.2" y2="794.57" stroke="#000" stroke-width="2.5"/>
<line x1="1496.3" y1="771.3" x2="1511.15" y2="771.3" stroke="#000" stroke-width="2.97"/>
<line x1="1496.3" y1="748.03" x2="1503.2" y2="748.03" stroke="#000" stroke-width="2.5"/>
<line x1="1496.3" y1="724.76" x2="1503.2" y2="724.76" stroke="#000" stroke-width="2.5"/>
<line x1="1496.3" y1="701.49" x2="1503.2" y2="701.49" stroke="#000" stroke-width="2.5"/>
<line x1="1496.3" y1="678.22" x2="1503.2" y2="678.22" stroke="#000" stroke-width="2.5"/>
<line x1="1496.3" y1="654.95" x2="1511.15" y2="654.95" stroke="#000" stroke-width="2.97"/>
<line x1="1496.3" y1="631.68" x2="1503.2" y2="631.68" stroke="#000" stroke-width="2.5"/>
<line x1="1496.3" y1="608.41" x2="1503.2" y2="608.41" stroke="#000" stroke-width="2.5"/>
<line x1="1496.3" y1="585.14" x2="1503.2" y2="585.14" stroke="#000" stroke-width="2.5"/>
<line x1="1496.3" y1="561.87" x2="1503.2" y2="561.87" stroke="#000" stroke-width="2.5"/>
<line x1="1496.3" y1="538.6" x2="1511.15" y2="538.6" stroke="#000" stroke-width="2.97"/>
<rect x="1496.3" y="538.6" width="667.1" height="465.4" fill="none" stroke="#000" stroke-width="1.49"/>
<text x="1551.55" y="1031.5" font-size="29.7" text-anchor="middle">25</text>
<text x="1660.02" y="1031.5" font-size="29.7" text-anchor="middle">50</text>
<text x="1768.49" y="1031.5" font-size="29.7" text-anchor="middle">75</text>
<text x="1876.97" y="1031.5" font-size="29.7" text-anchor="middle">100</text>
<text x="1985.44" y="1031.5" font-size="29.7" text-anchor="middle">125</text>
<text x="2093.91" y="1031.5" font-size="29.7" text-anchor="middle">150</text>
<text x="1490.8" y="1015.95" font-size="29.7" text-anchor="end">0</text>
<text x="1490.8" y="899.6" font-size="29.7" text-anchor="end">1</text>
<text x="1490.8" y="783.25" font-size="29.7" text-anchor="end">2</text>
<text x="1490.8" y="666.9" font-size="29.7" text-anchor="end">3</text>
<text x="1490.8" y="550.55" font-size="29.7" text-anchor="end">4</text>
<path d="M1811.12,553.45 L2142.86,553.45 Q2148.8,553.45 2148.8,559.39 L2148.8,643.41 Q2148.8,649.35 2142.86,649.35 L1811.12,649.35 Q1805.18,649.35 1805.18,643.41 L1805.18,559.39 Q1805.18,553.45 1811.12,553.45 Z" fill="#fff" fill-opacity="0.8" stroke="#ccc" stroke-opacity="0.8" stroke-width="1.49"/>
<line x1="1816.56" y1="577.4" x2="1875.96" y2="577.4" stroke="#000" stroke-width="4.46" stroke-linecap="square"/>
<line x1="1816.56" y1="620.8" x2="1875.96" y2="620.8" stroke="#f00" stroke-width="4.46" stroke-dasharray="16.48 7.13"/>
<text x="1899.72" y="589.3" font-size="29.7">MSL</text>
<text x="1899.72" y="632.3" font-size="29.7">Pathfinder Dust</text>
<text x="892.33" y="1075.3" font-size="37.1">Scattering Angle [Deg]</text>
<text transform="translate(29.0,770.37) rotate(-90)" x="0" y="0" font-size="37.1">Scattering Phase Function</text>
</svg></body></html>
